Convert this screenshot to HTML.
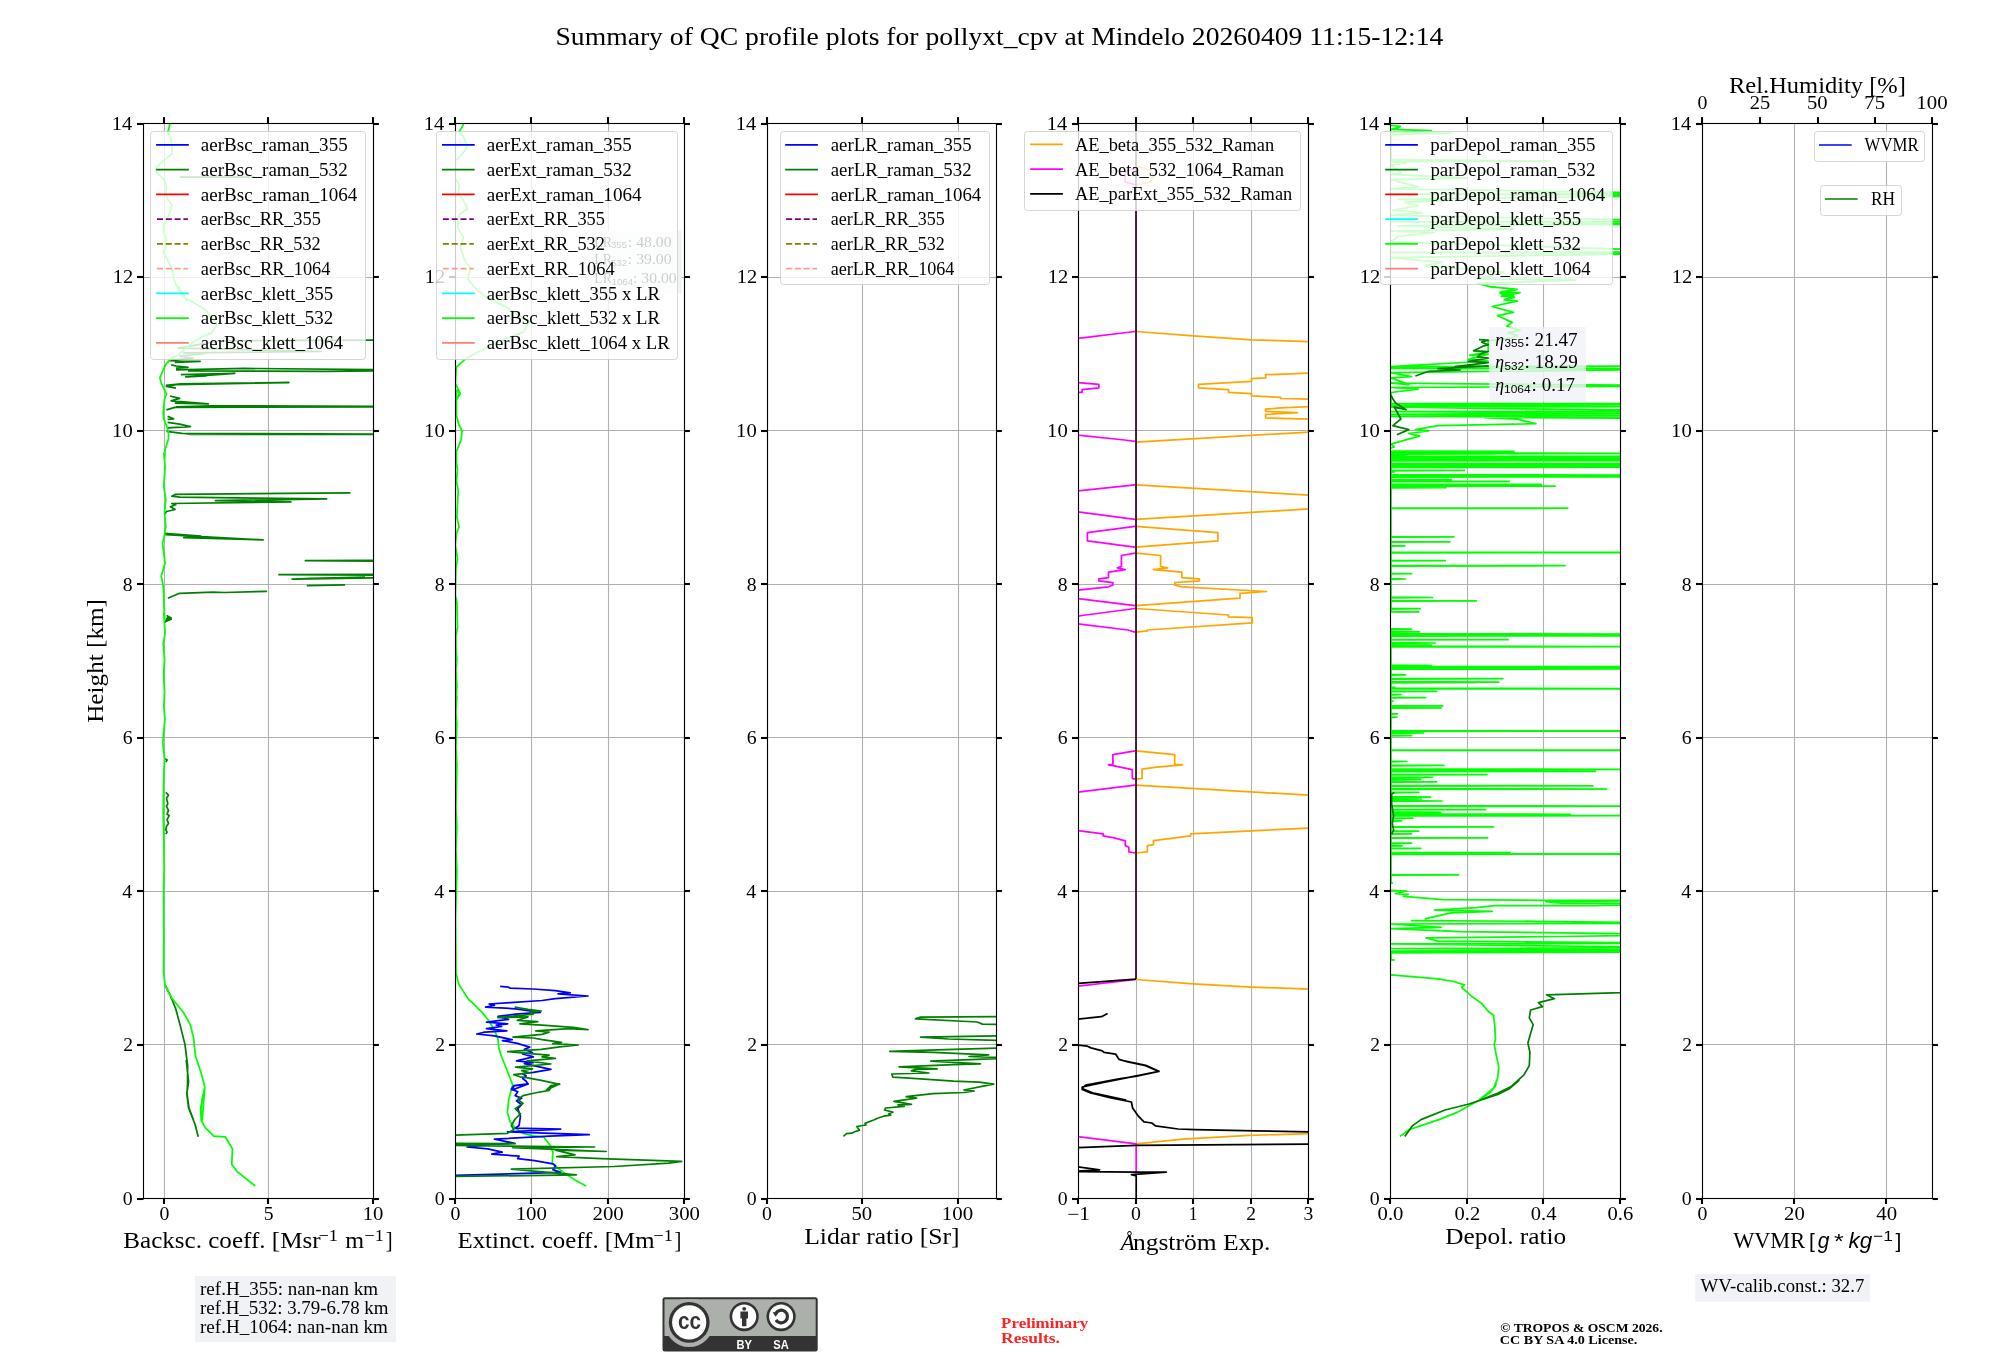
<!DOCTYPE html><html><head><meta charset="utf-8"><style>html,body{margin:0;padding:0;background:#fff;overflow:hidden}svg{display:block}#w{transform:translateZ(0);width:2000px;height:1360px}</style></head><body><div id="w"><svg width="2000" height="1360" viewBox="0 0 2000 1360">
<defs>
<clipPath id="c0"><rect x="143.5" y="123.5" width="230.0" height="1075.0"/></clipPath>
<clipPath id="c1"><rect x="455.5" y="123.5" width="229.0" height="1075.0"/></clipPath>
<clipPath id="c2"><rect x="767.5" y="123.5" width="229.0" height="1075.0"/></clipPath>
<clipPath id="c3"><rect x="1078.5" y="123.5" width="230.0" height="1075.0"/></clipPath>
<clipPath id="c4"><rect x="1390.5" y="123.5" width="230.0" height="1075.0"/></clipPath>
<clipPath id="c5"><rect x="1702.5" y="123.5" width="230.0" height="1075.0"/></clipPath>
</defs>
<text x="555.45" y="44.50" font-family="Liberation Serif" font-size="26.22" textLength="887.98" lengthAdjust="spacingAndGlyphs">Summary of QC profile plots for pollyxt_cpv at Mindelo 20260409 11:15-12:14</text>
<line x1="164.50" y1="123.5" x2="164.50" y2="1198.5" stroke="#b0b0b0" stroke-width="1.11"/>
<line x1="268.50" y1="123.5" x2="268.50" y2="1198.5" stroke="#b0b0b0" stroke-width="1.11"/>
<line x1="373.50" y1="123.5" x2="373.50" y2="1198.5" stroke="#b0b0b0" stroke-width="1.11"/>
<line x1="143.5" y1="1198.50" x2="373.5" y2="1198.50" stroke="#b0b0b0" stroke-width="1.11"/>
<line x1="143.5" y1="1044.50" x2="373.5" y2="1044.50" stroke="#b0b0b0" stroke-width="1.11"/>
<line x1="143.5" y1="891.50" x2="373.5" y2="891.50" stroke="#b0b0b0" stroke-width="1.11"/>
<line x1="143.5" y1="737.50" x2="373.5" y2="737.50" stroke="#b0b0b0" stroke-width="1.11"/>
<line x1="143.5" y1="584.50" x2="373.5" y2="584.50" stroke="#b0b0b0" stroke-width="1.11"/>
<line x1="143.5" y1="430.50" x2="373.5" y2="430.50" stroke="#b0b0b0" stroke-width="1.11"/>
<line x1="143.5" y1="277.50" x2="373.5" y2="277.50" stroke="#b0b0b0" stroke-width="1.11"/>
<line x1="143.5" y1="123.50" x2="373.5" y2="123.50" stroke="#b0b0b0" stroke-width="1.11"/>
<g clip-path="url(#c0)">
<path d="M180.0 177.2 L255.0 177.2 M457.6 339.8 L219.4 340.9 L178.4 348.2 L321.3 351.5 L183.7 352.8 L206.2 353.5 L179.7 356.1 L192.9 358.1 L170.4 360.1 M168.8 360.6 L200.0 361.4 L174.8 362.4 M171.2 364.8 L176.0 366.0 L188.0 367.4 L176.0 368.2 M176.0 369.8 L244.4 368.4 L428.0 370.3 L326.0 371.4 L188.0 370.8 M180.8 374.6 L234.8 373.4 L185.6 376.8 L206.0 376.0 L186.8 377.0 M165.8 385.4 L180.8 383.8 L288.8 382.6 L176.0 384.6 L166.4 386.4 L176.0 388.2 M170.0 396.0 L179.6 398.4 L171.2 400.8 L208.4 403.8 L174.8 403.2 M166.4 409.8 L174.8 407.4 L428.0 406.6 L209.6 405.8 L176.0 406.8 M167.6 416.4 L173.6 418.8 L167.6 419.4 M167.6 422.4 L179.6 424.2 L190.4 426.6 L167.6 427.8 M170.0 432.0 L190.4 434.4 L428.0 434.4 L182.0 433.4 L166.4 431.4 M164.5 514.1 L166.5 511.5 L175.1 509.5 L170.4 506.8 L175.7 504.8 L171.8 503.5 L290.9 501.9 L215.4 500.6 L326.6 498.9 L179.7 497.2 L171.8 496.2 L175.7 494.3 L350.4 492.9 M164.5 533.3 L200.9 536.0 L183.7 537.7 L263.1 539.9 L165.1 534.6 M457.6 559.8 L305.4 560.7 L457.6 561.5 M457.6 573.9 L279.0 574.7 L457.6 575.3 M457.6 576.3 L292.2 579.2 L312.0 578.3 L365.0 577.2 M306.8 585.6 L345.1 584.9 M167.8 598.2 L177.1 594.2 L179.7 593.3 L212.8 592.2 L224.7 592.5 L267.1 591.3 M166.5 615.4 L171.1 618.0 L167.1 620.0 M165.1 622.5 L167.8 617.2 L171.1 619.2 L166.5 621.2 M165.1 758.8 L167.1 760.1 L165.8 762.1 M165.8 792.4 L168.5 795.1 L166.5 798.4 L167.8 803.7 L166.5 806.3 L168.5 810.3 L167.1 814.3 L169.1 815.6 L167.1 819.6 L168.5 823.5 L166.5 826.2 L165.8 830.1 L167.1 832.1 L165.8 834.1 M165.1 985.0 L170.4 995.6 L175.7 1008.8 L179.7 1023.4 L185.0 1044.6 L187.6 1065.7 L187.6 1082.9 L187.0 1093.5 L189.0 1108.1 L193.6 1120.0 M186.2 1060.0 L188.6 1081.6 L186.8 1093.6 L188.6 1108.0 L195.2 1124.8 L198.2 1136.8" fill="none" stroke="#008000" stroke-width="1.74" stroke-linejoin="round" stroke-linecap="butt"/>
<path d="M169.8 124.0 L168.5 130.6 L167.1 131.9 L169.1 134.6 L171.1 139.9 L171.8 146.5 L172.4 153.1 L166.5 158.4 L161.2 162.4 L156.5 167.6 L155.9 171.6 L159.9 175.6 L163.8 179.6 L165.8 183.5 L166.5 188.8 L165.8 194.1 L167.8 199.4 L171.8 204.7 L169.8 212.6 L166.5 220.6 L163.2 225.9 L163.8 232.5 L166.5 239.1 L165.8 245.7 L163.2 252.3 L166.5 257.6 L170.4 265.6 L173.1 272.2 L173.7 278.8 L177.1 286.8 L185.0 297.3 L186.3 300.0 L178.4 286.6 L179.7 293.2 L186.3 298.5 L195.6 303.8 L206.2 310.4 L210.1 315.7 L216.8 325.0 L211.5 332.9 L202.2 336.9 L192.9 342.2 L183.7 350.1 L177.1 355.4 L170.4 359.4 L166.5 363.4 L163.2 370.0 L159.9 377.9 L161.2 383.2 L164.5 389.8 L166.5 393.8 L164.5 399.1 L163.2 412.3 L163.8 419.0 L166.5 425.6 L168.5 432.2 L168.5 438.8 L165.1 449.4 L164.5 460.0 L163.8 453.2 L165.1 466.5 L163.8 486.3 L165.8 499.6 L164.5 512.8 L165.8 526.0 L163.8 539.3 L162.5 543.2 L164.5 559.1 L165.1 563.1 L161.2 576.3 L163.2 585.6 L163.8 598.8 L164.5 620.0 L163.8 613.2 L165.1 633.1 L163.2 643.7 L164.5 659.6 L163.6 674.1 L164.5 692.6 L163.8 705.9 L164.9 719.1 L162.8 742.9 L164.5 758.8 L163.6 780.0 L163.6 786.5 L163.2 812.9 L163.8 839.4 L164.1 865.9 L163.6 892.3 L163.8 940.0 L163.6 973.1 L165.1 985.0 L171.8 998.2 L183.7 1012.8 L190.3 1024.7 L193.6 1037.9 L194.3 1045.9 L195.6 1056.5 L200.9 1072.3 L204.8 1086.9 L202.2 1098.8 L200.9 1109.4 L202.2 1120.0 L204.8 1087.6 L200.6 1108.0 L201.2 1120.0 L204.8 1127.2 L213.8 1136.2 L225.2 1136.8 L232.4 1148.8 L231.8 1164.4 L237.2 1171.6 L255.2 1186.0" fill="none" stroke="#00ff00" stroke-width="1.74" stroke-linejoin="round" stroke-linecap="butt"/>
</g>
<rect x="143.5" y="123.5" width="230.00" height="1075.00" fill="none" stroke="#000" stroke-width="1.11"/>
<line x1="164" y1="1198.5" x2="164" y2="1204.0" stroke="#000" stroke-width="2.08"/>
<line x1="164" y1="123.5" x2="164" y2="117.1" stroke="#000" stroke-width="2.08"/>
<line x1="268" y1="1198.5" x2="268" y2="1204.0" stroke="#000" stroke-width="2.08"/>
<line x1="268" y1="123.5" x2="268" y2="117.1" stroke="#000" stroke-width="2.08"/>
<line x1="373" y1="1198.5" x2="373" y2="1204.0" stroke="#000" stroke-width="2.08"/>
<line x1="373" y1="123.5" x2="373" y2="117.1" stroke="#000" stroke-width="2.08"/>
<line x1="143.5" y1="1199" x2="137.0" y2="1199" stroke="#000" stroke-width="2.08"/>
<line x1="373.5" y1="1199" x2="378.9" y2="1199" stroke="#000" stroke-width="2.08"/>
<line x1="143.5" y1="1045" x2="137.0" y2="1045" stroke="#000" stroke-width="2.08"/>
<line x1="373.5" y1="1045" x2="378.9" y2="1045" stroke="#000" stroke-width="2.08"/>
<line x1="143.5" y1="891" x2="137.0" y2="891" stroke="#000" stroke-width="2.08"/>
<line x1="373.5" y1="891" x2="378.9" y2="891" stroke="#000" stroke-width="2.08"/>
<line x1="143.5" y1="738" x2="137.0" y2="738" stroke="#000" stroke-width="2.08"/>
<line x1="373.5" y1="738" x2="378.9" y2="738" stroke="#000" stroke-width="2.08"/>
<line x1="143.5" y1="584" x2="137.0" y2="584" stroke="#000" stroke-width="2.08"/>
<line x1="373.5" y1="584" x2="378.9" y2="584" stroke="#000" stroke-width="2.08"/>
<line x1="143.5" y1="431" x2="137.0" y2="431" stroke="#000" stroke-width="2.08"/>
<line x1="373.5" y1="431" x2="378.9" y2="431" stroke="#000" stroke-width="2.08"/>
<line x1="143.5" y1="277" x2="137.0" y2="277" stroke="#000" stroke-width="2.08"/>
<line x1="373.5" y1="277" x2="378.9" y2="277" stroke="#000" stroke-width="2.08"/>
<line x1="143.5" y1="124" x2="137.0" y2="124" stroke="#000" stroke-width="2.08"/>
<line x1="373.5" y1="124" x2="378.9" y2="124" stroke="#000" stroke-width="2.08"/>
<text x="159.46" y="1220.00" font-family="Liberation Serif" font-size="17.83" textLength="9.91" lengthAdjust="spacingAndGlyphs">0</text>
<text x="263.86" y="1220.00" font-family="Liberation Serif" font-size="17.83" textLength="9.81" lengthAdjust="spacingAndGlyphs">5</text>
<text x="362.65" y="1220.00" font-family="Liberation Serif" font-size="17.83" textLength="20.67" lengthAdjust="spacingAndGlyphs">10</text>
<text x="122.85" y="1204.90" font-family="Liberation Serif" font-size="17.83" textLength="9.91" lengthAdjust="spacingAndGlyphs">0</text>
<text x="123.30" y="1051.33" font-family="Liberation Serif" font-size="17.83" textLength="9.77" lengthAdjust="spacingAndGlyphs">2</text>
<text x="122.36" y="897.76" font-family="Liberation Serif" font-size="17.83" textLength="9.95" lengthAdjust="spacingAndGlyphs">4</text>
<text x="122.71" y="744.19" font-family="Liberation Serif" font-size="17.83" textLength="9.88" lengthAdjust="spacingAndGlyphs">6</text>
<text x="122.88" y="590.61" font-family="Liberation Serif" font-size="17.83" textLength="9.87" lengthAdjust="spacingAndGlyphs">8</text>
<text x="112.12" y="437.04" font-family="Liberation Serif" font-size="17.83" textLength="20.67" lengthAdjust="spacingAndGlyphs">10</text>
<text x="112.66" y="283.47" font-family="Liberation Serif" font-size="17.83" textLength="20.47" lengthAdjust="spacingAndGlyphs">12</text>
<text x="111.87" y="129.90" font-family="Liberation Serif" font-size="17.83" textLength="20.45" lengthAdjust="spacingAndGlyphs">14</text>
<line x1="455.50" y1="123.5" x2="455.50" y2="1198.5" stroke="#b0b0b0" stroke-width="1.11"/>
<line x1="531.50" y1="123.5" x2="531.50" y2="1198.5" stroke="#b0b0b0" stroke-width="1.11"/>
<line x1="608.50" y1="123.5" x2="608.50" y2="1198.5" stroke="#b0b0b0" stroke-width="1.11"/>
<line x1="684.50" y1="123.5" x2="684.50" y2="1198.5" stroke="#b0b0b0" stroke-width="1.11"/>
<line x1="455.5" y1="1198.50" x2="684.5" y2="1198.50" stroke="#b0b0b0" stroke-width="1.11"/>
<line x1="455.5" y1="1044.50" x2="684.5" y2="1044.50" stroke="#b0b0b0" stroke-width="1.11"/>
<line x1="455.5" y1="891.50" x2="684.5" y2="891.50" stroke="#b0b0b0" stroke-width="1.11"/>
<line x1="455.5" y1="737.50" x2="684.5" y2="737.50" stroke="#b0b0b0" stroke-width="1.11"/>
<line x1="455.5" y1="584.50" x2="684.5" y2="584.50" stroke="#b0b0b0" stroke-width="1.11"/>
<line x1="455.5" y1="430.50" x2="684.5" y2="430.50" stroke="#b0b0b0" stroke-width="1.11"/>
<line x1="455.5" y1="277.50" x2="684.5" y2="277.50" stroke="#b0b0b0" stroke-width="1.11"/>
<line x1="455.5" y1="123.50" x2="684.5" y2="123.50" stroke="#b0b0b0" stroke-width="1.11"/>
<g clip-path="url(#c1)">
<path d="M463.5 124.1 L461.5 128.2 L458.4 132.4 L463.5 136.5 L465.6 142.6 L466.6 148.8 L457.4 159.1 L453.2 161.2 L453.2 177.6 L456.3 179.7 L459.4 185.9 L458.4 192.1 L464.6 202.4 L467.6 208.5 L459.4 214.7 L457.4 227.1 L463.5 237.4 L460.4 247.7 L464.6 260.0 L470.7 268.2 L467.6 278.5 L473.8 286.8 L486.2 297.1 L506.8 307.4 L529.4 321.8 L523.2 332.1 L496.5 342.4 L465.6 358.8 L456.3 367.1 L455.3 383.5 L460.4 393.8 L456.3 400.0 L455.9 390.0 L459.8 393.4 L456.4 399.1 L456.4 415.1 L458.7 424.2 L462.1 431.0 L461.0 440.1 L456.4 451.5 L456.4 462.9 L457.5 469.8 L456.4 481.2 L458.2 490.3 L457.5 504.0 L456.9 517.6 L459.1 526.8 L456.4 533.6 L455.3 545.0 L457.5 558.7 L455.9 567.8 L455.3 595.2 L456.9 602.0 L457.5 627.1 L455.9 636.2 L455.9 647.6 L456.9 659.0 L455.9 670.4 L456.9 686.3 L455.9 700.0 L456.9 696.8 L455.9 712.8 L456.9 724.2 L455.9 747.0 L456.9 765.2 L455.9 808.5 L456.9 826.8 L455.9 849.6 L456.9 870.1 L455.5 917.9 L455.9 963.5 L455.9 972.7 L458.7 984.1 L468.9 1000.0 L471.5 1001.8 L482.1 1012.4 L489.1 1021.2 L494.4 1030.0 L498.0 1038.8 L498.8 1047.7 L501.5 1056.5 L506.8 1069.7 L513.0 1085.6 L514.7 1090.0 L512.6 1085.2 L508.7 1099.5 L507.4 1112.5 L510.0 1121.6 L515.2 1128.1 L523.0 1133.3 L533.4 1135.9 L543.8 1137.2 L549.0 1143.7 L552.9 1151.5 L552.3 1163.2 L558.1 1168.4 L567.2 1174.9 L575.0 1180.1 L586.1 1186.0" fill="none" stroke="#00ff00" stroke-width="1.74" stroke-linejoin="round" stroke-linecap="butt"/>
<path d="M500.2 986.3 L508.5 987.2 L510.3 988.1 L533.3 989.0 L555.3 990.7 L570.3 992.9 L558.0 993.8 L588.0 996.0 L555.3 998.7 L542.1 1000.5 L510.3 1002.7 L489.1 1004.0 L494.4 1005.3 L485.6 1007.1 L515.6 1008.8 L540.3 1012.4 L515.6 1014.1 L498.0 1016.3 L508.5 1019.4 L486.5 1022.1 L507.7 1023.8 L496.2 1025.2 L501.5 1026.5 L486.5 1028.7 L506.8 1030.9 L484.7 1032.2 L476.8 1034.0 L494.4 1035.8 L512.1 1039.7 L502.4 1040.6 L517.4 1043.3 L529.7 1047.2 L524.4 1049.4 L532.4 1052.5 L522.7 1053.8 L533.3 1056.9 L516.5 1060.9 L533.3 1062.7 L524.4 1063.6 L550.9 1069.3 L533.3 1072.4 L522.7 1073.7 L526.2 1075.9 L522.7 1078.6 L526.2 1081.2 L528.0 1083.9 L513.8 1085.6 L512.1 1090.0 L528.2 1083.9 L513.9 1085.9 L511.3 1089.1 L517.8 1091.7 L515.2 1095.6 L521.7 1098.2 L516.5 1100.8 L521.7 1104.7 L517.8 1108.6 L520.4 1116.4 L519.1 1125.5 L515.2 1128.1 L560.7 1129.2 L507.4 1131.8 L589.3 1134.6 L549.0 1136.2 L494.4 1139.2 L513.9 1143.1 L491.8 1144.4 L467.1 1147.0 L487.9 1148.9 L502.2 1152.2 L491.8 1154.1 L519.1 1156.1 L517.8 1158.7 L534.7 1160.6 L552.9 1163.9 L555.5 1165.8 L552.9 1169.7 L560.7 1172.3 L419.0 1176.5" fill="none" stroke="#0000ff" stroke-width="1.74" stroke-linejoin="round" stroke-linecap="butt"/>
<path d="M514.7 1007.1 L528.0 1009.3 L541.2 1011.0 L529.7 1012.4 L533.3 1014.1 L498.0 1017.7 L528.0 1016.8 L517.4 1020.3 L537.7 1021.6 L520.0 1023.8 L542.1 1025.2 L573.0 1027.4 L588.0 1029.6 L568.6 1028.7 L535.9 1030.9 L549.1 1032.2 L542.1 1034.4 L513.0 1037.1 L533.3 1038.0 L542.1 1039.7 L561.5 1042.4 L552.7 1043.7 L578.3 1045.0 L559.7 1046.8 L541.2 1049.4 L507.7 1051.6 L533.3 1053.8 L549.1 1055.2 L542.1 1056.9 L555.3 1058.3 L527.1 1060.9 L550.9 1064.0 L515.6 1067.1 L532.4 1068.9 L521.8 1070.6 L529.7 1072.8 L513.8 1074.6 L520.0 1076.8 L526.2 1077.7 L541.2 1080.3 L559.7 1084.3 L550.9 1085.6 L546.5 1090.0 L559.4 1083.9 L551.6 1086.5 L549.0 1090.4 L534.7 1093.0 L523.0 1095.6 L517.8 1099.5 L523.0 1103.4 L515.2 1108.6 L520.4 1113.8 L515.2 1119.0 L511.3 1125.5 L513.9 1129.4 L507.4 1133.3 L419.0 1136.2 L419.0 1143.1 L515.2 1143.7 L419.0 1145.0 L594.5 1147.0 L512.6 1147.6 L606.2 1151.5 L555.5 1150.2 L575.0 1154.8 L556.8 1156.7 L601.0 1158.7 L681.7 1161.3 L668.7 1163.2 L614.1 1166.5 L511.3 1169.1 L576.3 1174.9 L419.0 1176.9" fill="none" stroke="#008000" stroke-width="1.74" stroke-linejoin="round" stroke-linecap="butt"/>
</g>
<rect x="455.5" y="123.5" width="229.00" height="1075.00" fill="none" stroke="#000" stroke-width="1.11"/>
<line x1="455" y1="1198.5" x2="455" y2="1204.0" stroke="#000" stroke-width="2.08"/>
<line x1="455" y1="123.5" x2="455" y2="117.1" stroke="#000" stroke-width="2.08"/>
<line x1="531" y1="1198.5" x2="531" y2="1204.0" stroke="#000" stroke-width="2.08"/>
<line x1="531" y1="123.5" x2="531" y2="117.1" stroke="#000" stroke-width="2.08"/>
<line x1="608" y1="1198.5" x2="608" y2="1204.0" stroke="#000" stroke-width="2.08"/>
<line x1="608" y1="123.5" x2="608" y2="117.1" stroke="#000" stroke-width="2.08"/>
<line x1="684" y1="1198.5" x2="684" y2="1204.0" stroke="#000" stroke-width="2.08"/>
<line x1="684" y1="123.5" x2="684" y2="117.1" stroke="#000" stroke-width="2.08"/>
<line x1="455.5" y1="1199" x2="449.0" y2="1199" stroke="#000" stroke-width="2.08"/>
<line x1="684.5" y1="1199" x2="689.9" y2="1199" stroke="#000" stroke-width="2.08"/>
<line x1="455.5" y1="1045" x2="449.0" y2="1045" stroke="#000" stroke-width="2.08"/>
<line x1="684.5" y1="1045" x2="689.9" y2="1045" stroke="#000" stroke-width="2.08"/>
<line x1="455.5" y1="891" x2="449.0" y2="891" stroke="#000" stroke-width="2.08"/>
<line x1="684.5" y1="891" x2="689.9" y2="891" stroke="#000" stroke-width="2.08"/>
<line x1="455.5" y1="738" x2="449.0" y2="738" stroke="#000" stroke-width="2.08"/>
<line x1="684.5" y1="738" x2="689.9" y2="738" stroke="#000" stroke-width="2.08"/>
<line x1="455.5" y1="584" x2="449.0" y2="584" stroke="#000" stroke-width="2.08"/>
<line x1="684.5" y1="584" x2="689.9" y2="584" stroke="#000" stroke-width="2.08"/>
<line x1="455.5" y1="431" x2="449.0" y2="431" stroke="#000" stroke-width="2.08"/>
<line x1="684.5" y1="431" x2="689.9" y2="431" stroke="#000" stroke-width="2.08"/>
<line x1="455.5" y1="277" x2="449.0" y2="277" stroke="#000" stroke-width="2.08"/>
<line x1="684.5" y1="277" x2="689.9" y2="277" stroke="#000" stroke-width="2.08"/>
<line x1="455.5" y1="124" x2="449.0" y2="124" stroke="#000" stroke-width="2.08"/>
<line x1="684.5" y1="124" x2="689.9" y2="124" stroke="#000" stroke-width="2.08"/>
<text x="450.55" y="1220.00" font-family="Liberation Serif" font-size="17.83" textLength="9.91" lengthAdjust="spacingAndGlyphs">0</text>
<text x="515.66" y="1220.00" font-family="Liberation Serif" font-size="17.83" textLength="31.30" lengthAdjust="spacingAndGlyphs">100</text>
<text x="592.46" y="1220.00" font-family="Liberation Serif" font-size="17.83" textLength="31.28" lengthAdjust="spacingAndGlyphs">200</text>
<text x="668.79" y="1220.00" font-family="Liberation Serif" font-size="17.83" textLength="31.22" lengthAdjust="spacingAndGlyphs">300</text>
<text x="434.85" y="1204.90" font-family="Liberation Serif" font-size="17.83" textLength="9.91" lengthAdjust="spacingAndGlyphs">0</text>
<text x="435.30" y="1051.33" font-family="Liberation Serif" font-size="17.83" textLength="9.77" lengthAdjust="spacingAndGlyphs">2</text>
<text x="434.36" y="897.76" font-family="Liberation Serif" font-size="17.83" textLength="9.95" lengthAdjust="spacingAndGlyphs">4</text>
<text x="434.71" y="744.19" font-family="Liberation Serif" font-size="17.83" textLength="9.88" lengthAdjust="spacingAndGlyphs">6</text>
<text x="434.88" y="590.61" font-family="Liberation Serif" font-size="17.83" textLength="9.87" lengthAdjust="spacingAndGlyphs">8</text>
<text x="424.12" y="437.04" font-family="Liberation Serif" font-size="17.83" textLength="20.67" lengthAdjust="spacingAndGlyphs">10</text>
<text x="424.66" y="283.47" font-family="Liberation Serif" font-size="17.83" textLength="20.47" lengthAdjust="spacingAndGlyphs">12</text>
<text x="423.87" y="129.90" font-family="Liberation Serif" font-size="17.83" textLength="20.45" lengthAdjust="spacingAndGlyphs">14</text>
<line x1="767.50" y1="123.5" x2="767.50" y2="1198.5" stroke="#b0b0b0" stroke-width="1.11"/>
<line x1="862.50" y1="123.5" x2="862.50" y2="1198.5" stroke="#b0b0b0" stroke-width="1.11"/>
<line x1="958.50" y1="123.5" x2="958.50" y2="1198.5" stroke="#b0b0b0" stroke-width="1.11"/>
<line x1="767.5" y1="1198.50" x2="996.5" y2="1198.50" stroke="#b0b0b0" stroke-width="1.11"/>
<line x1="767.5" y1="1044.50" x2="996.5" y2="1044.50" stroke="#b0b0b0" stroke-width="1.11"/>
<line x1="767.5" y1="891.50" x2="996.5" y2="891.50" stroke="#b0b0b0" stroke-width="1.11"/>
<line x1="767.5" y1="737.50" x2="996.5" y2="737.50" stroke="#b0b0b0" stroke-width="1.11"/>
<line x1="767.5" y1="584.50" x2="996.5" y2="584.50" stroke="#b0b0b0" stroke-width="1.11"/>
<line x1="767.5" y1="430.50" x2="996.5" y2="430.50" stroke="#b0b0b0" stroke-width="1.11"/>
<line x1="767.5" y1="277.50" x2="996.5" y2="277.50" stroke="#b0b0b0" stroke-width="1.11"/>
<line x1="767.5" y1="123.50" x2="996.5" y2="123.50" stroke="#b0b0b0" stroke-width="1.11"/>
<g clip-path="url(#c2)">
<path d="M843.4 1136.3 L846.5 1133.7 L851.6 1133.2 L854.7 1131.7 L859.4 1130.1 L856.8 1126.5 L866.0 1125.0 L865.0 1123.4 L874.3 1119.8 L877.4 1118.3 L883.6 1116.2 L890.8 1115.2 L888.7 1113.7 L892.8 1112.1 L884.6 1110.0 L885.6 1108.0 L904.2 1106.4 L898.0 1104.9 L911.4 1104.4 L893.9 1101.3 L916.5 1098.2 L906.2 1096.7 L933.0 1093.6 L963.9 1092.5 L974.2 1091.0 L963.9 1090.0 L984.5 1085.8 L993.7 1084.1 L979.3 1082.2 L953.6 1081.2 L909.3 1078.1 L892.8 1077.1 L891.8 1074.0 L928.9 1073.0 L911.4 1070.9 L915.5 1069.4 L937.1 1068.9 L899.0 1066.8 L953.6 1064.7 L980.4 1063.9 L930.9 1061.1 L956.7 1060.1 L1015.4 1058.0 L969.0 1056.5 L988.6 1054.9 L933.0 1052.4 L889.7 1051.3 L953.6 1049.3 L1015.4 1047.7 M1015.4 1041.0 L948.4 1039.0 L920.6 1037.1 L1015.4 1035.7 M1015.4 1024.6 L982.4 1024.1 L977.3 1022.0 L915.5 1018.9 L920.6 1017.2 L1015.4 1016.5" fill="none" stroke="#008000" stroke-width="1.74" stroke-linejoin="round" stroke-linecap="butt"/>
</g>
<rect x="767.5" y="123.5" width="229.00" height="1075.00" fill="none" stroke="#000" stroke-width="1.11"/>
<line x1="767" y1="1198.5" x2="767" y2="1204.0" stroke="#000" stroke-width="2.08"/>
<line x1="767" y1="123.5" x2="767" y2="117.1" stroke="#000" stroke-width="2.08"/>
<line x1="862" y1="1198.5" x2="862" y2="1204.0" stroke="#000" stroke-width="2.08"/>
<line x1="862" y1="123.5" x2="862" y2="117.1" stroke="#000" stroke-width="2.08"/>
<line x1="958" y1="1198.5" x2="958" y2="1204.0" stroke="#000" stroke-width="2.08"/>
<line x1="958" y1="123.5" x2="958" y2="117.1" stroke="#000" stroke-width="2.08"/>
<line x1="767.5" y1="1199" x2="761.0" y2="1199" stroke="#000" stroke-width="2.08"/>
<line x1="996.5" y1="1199" x2="1001.9" y2="1199" stroke="#000" stroke-width="2.08"/>
<line x1="767.5" y1="1045" x2="761.0" y2="1045" stroke="#000" stroke-width="2.08"/>
<line x1="996.5" y1="1045" x2="1001.9" y2="1045" stroke="#000" stroke-width="2.08"/>
<line x1="767.5" y1="891" x2="761.0" y2="891" stroke="#000" stroke-width="2.08"/>
<line x1="996.5" y1="891" x2="1001.9" y2="891" stroke="#000" stroke-width="2.08"/>
<line x1="767.5" y1="738" x2="761.0" y2="738" stroke="#000" stroke-width="2.08"/>
<line x1="996.5" y1="738" x2="1001.9" y2="738" stroke="#000" stroke-width="2.08"/>
<line x1="767.5" y1="584" x2="761.0" y2="584" stroke="#000" stroke-width="2.08"/>
<line x1="996.5" y1="584" x2="1001.9" y2="584" stroke="#000" stroke-width="2.08"/>
<line x1="767.5" y1="431" x2="761.0" y2="431" stroke="#000" stroke-width="2.08"/>
<line x1="996.5" y1="431" x2="1001.9" y2="431" stroke="#000" stroke-width="2.08"/>
<line x1="767.5" y1="277" x2="761.0" y2="277" stroke="#000" stroke-width="2.08"/>
<line x1="996.5" y1="277" x2="1001.9" y2="277" stroke="#000" stroke-width="2.08"/>
<line x1="767.5" y1="124" x2="761.0" y2="124" stroke="#000" stroke-width="2.08"/>
<line x1="996.5" y1="124" x2="1001.9" y2="124" stroke="#000" stroke-width="2.08"/>
<text x="762.05" y="1220.00" font-family="Liberation Serif" font-size="17.83" textLength="9.91" lengthAdjust="spacingAndGlyphs">0</text>
<text x="851.46" y="1220.00" font-family="Liberation Serif" font-size="17.83" textLength="20.67" lengthAdjust="spacingAndGlyphs">50</text>
<text x="941.83" y="1220.00" font-family="Liberation Serif" font-size="17.83" textLength="31.30" lengthAdjust="spacingAndGlyphs">100</text>
<text x="746.85" y="1204.90" font-family="Liberation Serif" font-size="17.83" textLength="9.91" lengthAdjust="spacingAndGlyphs">0</text>
<text x="747.30" y="1051.33" font-family="Liberation Serif" font-size="17.83" textLength="9.77" lengthAdjust="spacingAndGlyphs">2</text>
<text x="746.36" y="897.76" font-family="Liberation Serif" font-size="17.83" textLength="9.95" lengthAdjust="spacingAndGlyphs">4</text>
<text x="746.71" y="744.19" font-family="Liberation Serif" font-size="17.83" textLength="9.88" lengthAdjust="spacingAndGlyphs">6</text>
<text x="746.88" y="590.61" font-family="Liberation Serif" font-size="17.83" textLength="9.87" lengthAdjust="spacingAndGlyphs">8</text>
<text x="736.12" y="437.04" font-family="Liberation Serif" font-size="17.83" textLength="20.67" lengthAdjust="spacingAndGlyphs">10</text>
<text x="736.66" y="283.47" font-family="Liberation Serif" font-size="17.83" textLength="20.47" lengthAdjust="spacingAndGlyphs">12</text>
<text x="735.87" y="129.90" font-family="Liberation Serif" font-size="17.83" textLength="20.45" lengthAdjust="spacingAndGlyphs">14</text>
<line x1="1078.50" y1="123.5" x2="1078.50" y2="1198.5" stroke="#b0b0b0" stroke-width="1.11"/>
<line x1="1136.50" y1="123.5" x2="1136.50" y2="1198.5" stroke="#b0b0b0" stroke-width="1.11"/>
<line x1="1193.50" y1="123.5" x2="1193.50" y2="1198.5" stroke="#b0b0b0" stroke-width="1.11"/>
<line x1="1251.50" y1="123.5" x2="1251.50" y2="1198.5" stroke="#b0b0b0" stroke-width="1.11"/>
<line x1="1308.50" y1="123.5" x2="1308.50" y2="1198.5" stroke="#b0b0b0" stroke-width="1.11"/>
<line x1="1078.5" y1="1198.50" x2="1308.5" y2="1198.50" stroke="#b0b0b0" stroke-width="1.11"/>
<line x1="1078.5" y1="1044.50" x2="1308.5" y2="1044.50" stroke="#b0b0b0" stroke-width="1.11"/>
<line x1="1078.5" y1="891.50" x2="1308.5" y2="891.50" stroke="#b0b0b0" stroke-width="1.11"/>
<line x1="1078.5" y1="737.50" x2="1308.5" y2="737.50" stroke="#b0b0b0" stroke-width="1.11"/>
<line x1="1078.5" y1="584.50" x2="1308.5" y2="584.50" stroke="#b0b0b0" stroke-width="1.11"/>
<line x1="1078.5" y1="430.50" x2="1308.5" y2="430.50" stroke="#b0b0b0" stroke-width="1.11"/>
<line x1="1078.5" y1="277.50" x2="1308.5" y2="277.50" stroke="#b0b0b0" stroke-width="1.11"/>
<line x1="1078.5" y1="123.50" x2="1308.5" y2="123.50" stroke="#b0b0b0" stroke-width="1.11"/>
<g clip-path="url(#c3)">
<path d="M1136.0 166.0 L1150.0 170.0 L1154.0 176.0 L1150.0 182.0 L1136.0 185.0 M1135.9 331.5 L1193.2 335.9 L1251.5 339.8 L1322.0 341.9 M1322.0 372.6 L1265.6 374.7 L1265.6 377.9 L1251.5 378.6 L1251.5 381.4 L1198.5 384.4 L1198.5 387.9 L1228.5 389.7 L1228.5 392.3 L1251.5 393.6 L1251.5 395.9 L1280.6 397.3 L1280.6 398.5 L1322.0 399.4 M1322.0 406.1 L1280.6 407.9 L1265.6 409.1 L1265.6 411.4 L1297.3 412.6 L1265.6 414.4 L1265.6 417.9 L1322.0 419.5 M1135.9 442.1 L1322.0 431.3 M1135.9 484.9 L1322.0 495.9 M1135.9 519.3 L1322.0 508.2 M1135.9 526.4 L1217.9 532.6 L1217.9 540.9 L1135.9 547.1 M1135.9 553.2 L1160.6 555.5 L1160.6 566.5 L1167.6 567.9 L1153.5 569.6 L1181.8 572.1 L1181.8 577.6 L1199.4 578.8 L1199.4 580.9 L1174.7 582.7 L1174.7 585.0 L1181.8 586.8 L1266.5 591.5 L1240.0 593.3 L1240.0 598.2 L1135.9 605.6 M1135.9 608.5 L1228.5 615.0 L1228.5 616.8 L1252.3 617.6 L1252.3 622.9 L1147.3 630.0 L1147.3 630.9 L1135.9 632.1 M1135.9 750.8 L1174.7 754.7 L1174.7 764.4 L1182.6 764.9 L1154.4 767.4 L1142.1 769.2 L1142.1 778.5 L1135.9 779.1 M1135.9 785.2 L1322.0 796.0 M1135.9 853.0 L1147.3 851.8 L1147.3 845.6 L1153.5 844.7 L1153.5 840.6 L1190.6 835.9 L1190.6 833.8 L1322.0 827.4 M1135.9 979.5 L1193.2 983.9 L1251.5 987.1 L1322.0 989.5 M1136.2 1143.8 L1183.0 1139.2 L1249.0 1135.4 L1327.0 1133.2" fill="none" stroke="#ffa500" stroke-width="1.74" stroke-linejoin="round" stroke-linecap="butt"/>
<path d="M1136.0 168.0 L1125.0 172.0 L1125.0 182.0 L1136.0 185.0 M1066.2 339.9 L1135.0 331.5 M1066.2 381.8 L1098.8 384.4 L1098.8 387.9 L1082.1 389.7 L1082.1 392.3 L1066.2 392.7 M1066.2 433.8 L1124.4 440.0 L1135.0 441.4 M1066.2 492.0 L1135.0 484.9 M1066.2 510.3 L1135.0 519.3 M1135.0 526.4 L1087.4 532.6 L1087.4 540.9 L1135.0 547.1 M1135.0 553.2 L1121.4 555.5 L1121.4 566.5 L1117.4 567.9 L1125.3 569.6 L1108.5 572.1 L1108.5 577.6 L1098.8 578.8 L1098.8 580.9 L1112.9 582.7 L1112.9 585.0 L1108.5 586.8 L1066.2 591.5 M1066.2 597.3 L1135.0 605.6 M1135.0 608.5 L1082.1 615.5 L1066.2 617.6 M1066.2 622.4 L1127.9 630.0 L1135.0 632.1 M1135.0 750.8 L1112.9 754.7 L1112.9 764.4 L1108.5 764.9 L1112.9 765.6 L1132.3 769.7 L1132.3 778.5 L1135.0 779.1 M1066.2 793.5 L1135.0 785.2 M1066.2 829.2 L1103.2 833.8 L1103.2 835.9 L1112.9 837.6 L1125.3 840.8 L1125.3 845.6 L1128.8 847.3 L1128.8 851.8 L1135.0 853.0 M1066.2 987.4 L1135.9 979.5 M1069.0 1135.6 L1136.2 1143.8 L1136.2 1172.2" fill="none" stroke="#ff00ff" stroke-width="1.74" stroke-linejoin="round" stroke-linecap="butt"/>
<path d="M1066.2 984.2 L1135.9 979.1 M1066.2 1020.2 L1101.5 1016.7 L1107.6 1013.5 M1066.2 1043.5 L1087.4 1046.2 L1090.9 1047.9 L1101.5 1050.6 L1104.1 1052.3 L1115.6 1054.1 L1119.1 1059.4 L1127.9 1062.0 L1145.6 1065.6 L1158.8 1071.4 L1136.8 1076.2 L1119.1 1078.8 L1085.6 1085.0 L1082.1 1088.5 L1092.6 1092.9 L1126.2 1100.0 M1120.6 1060.0 L1145.8 1065.4 L1159.0 1071.4 L1135.0 1076.2 L1105.0 1082.2 L1082.2 1087.0 L1082.2 1089.4 L1090.6 1093.0 L1111.0 1097.8 L1131.4 1102.0 L1132.6 1108.0 L1138.6 1116.4 L1144.0 1121.8 L1151.8 1123.0 L1155.4 1125.8 L1178.2 1129.0 L1195.0 1129.6 L1255.0 1130.8 L1327.0 1132.2 M1069.0 1148.0 L1136.2 1145.4 L1327.0 1144.0 M1069.0 1165.6 L1099.6 1169.8 L1069.0 1171.6 L1137.4 1172.2 L1166.2 1172.2 L1131.4 1174.6 L1136.2 1175.8 L1136.2 1199.2" fill="none" stroke="#000000" stroke-width="1.74" stroke-linejoin="round" stroke-linecap="butt"/>
<path d="M1136.0 120.0 L1136.0 979.1" fill="none" stroke="#2a0a2a" stroke-width="1.74" stroke-linejoin="round" stroke-linecap="butt"/>
</g>
<rect x="1078.5" y="123.5" width="230.00" height="1075.00" fill="none" stroke="#000" stroke-width="1.11"/>
<line x1="1078" y1="1198.5" x2="1078" y2="1204.0" stroke="#000" stroke-width="2.08"/>
<line x1="1078" y1="123.5" x2="1078" y2="117.1" stroke="#000" stroke-width="2.08"/>
<line x1="1136" y1="1198.5" x2="1136" y2="1204.0" stroke="#000" stroke-width="2.08"/>
<line x1="1136" y1="123.5" x2="1136" y2="117.1" stroke="#000" stroke-width="2.08"/>
<line x1="1193" y1="1198.5" x2="1193" y2="1204.0" stroke="#000" stroke-width="2.08"/>
<line x1="1193" y1="123.5" x2="1193" y2="117.1" stroke="#000" stroke-width="2.08"/>
<line x1="1251" y1="1198.5" x2="1251" y2="1204.0" stroke="#000" stroke-width="2.08"/>
<line x1="1251" y1="123.5" x2="1251" y2="117.1" stroke="#000" stroke-width="2.08"/>
<line x1="1308" y1="1198.5" x2="1308" y2="1204.0" stroke="#000" stroke-width="2.08"/>
<line x1="1308" y1="123.5" x2="1308" y2="117.1" stroke="#000" stroke-width="2.08"/>
<line x1="1078.5" y1="1199" x2="1072.0" y2="1199" stroke="#000" stroke-width="2.08"/>
<line x1="1308.5" y1="1199" x2="1313.9" y2="1199" stroke="#000" stroke-width="2.08"/>
<line x1="1078.5" y1="1045" x2="1072.0" y2="1045" stroke="#000" stroke-width="2.08"/>
<line x1="1308.5" y1="1045" x2="1313.9" y2="1045" stroke="#000" stroke-width="2.08"/>
<line x1="1078.5" y1="891" x2="1072.0" y2="891" stroke="#000" stroke-width="2.08"/>
<line x1="1308.5" y1="891" x2="1313.9" y2="891" stroke="#000" stroke-width="2.08"/>
<line x1="1078.5" y1="738" x2="1072.0" y2="738" stroke="#000" stroke-width="2.08"/>
<line x1="1308.5" y1="738" x2="1313.9" y2="738" stroke="#000" stroke-width="2.08"/>
<line x1="1078.5" y1="584" x2="1072.0" y2="584" stroke="#000" stroke-width="2.08"/>
<line x1="1308.5" y1="584" x2="1313.9" y2="584" stroke="#000" stroke-width="2.08"/>
<line x1="1078.5" y1="431" x2="1072.0" y2="431" stroke="#000" stroke-width="2.08"/>
<line x1="1308.5" y1="431" x2="1313.9" y2="431" stroke="#000" stroke-width="2.08"/>
<line x1="1078.5" y1="277" x2="1072.0" y2="277" stroke="#000" stroke-width="2.08"/>
<line x1="1308.5" y1="277" x2="1313.9" y2="277" stroke="#000" stroke-width="2.08"/>
<line x1="1078.5" y1="124" x2="1072.0" y2="124" stroke="#000" stroke-width="2.08"/>
<line x1="1308.5" y1="124" x2="1313.9" y2="124" stroke="#000" stroke-width="2.08"/>
<text x="1067.22" y="1220.00" font-family="Liberation Serif" font-size="17.83" textLength="22.79" lengthAdjust="spacingAndGlyphs">−1</text>
<text x="1131.05" y="1220.00" font-family="Liberation Serif" font-size="17.83" textLength="9.91" lengthAdjust="spacingAndGlyphs">0</text>
<text x="1188.85" y="1220.00" font-family="Liberation Serif" font-size="17.83" textLength="8.81" lengthAdjust="spacingAndGlyphs">1</text>
<text x="1246.22" y="1220.00" font-family="Liberation Serif" font-size="17.83" textLength="9.77" lengthAdjust="spacingAndGlyphs">2</text>
<text x="1303.51" y="1220.00" font-family="Liberation Serif" font-size="17.83" textLength="9.80" lengthAdjust="spacingAndGlyphs">3</text>
<text x="1057.85" y="1204.90" font-family="Liberation Serif" font-size="17.83" textLength="9.91" lengthAdjust="spacingAndGlyphs">0</text>
<text x="1058.30" y="1051.33" font-family="Liberation Serif" font-size="17.83" textLength="9.77" lengthAdjust="spacingAndGlyphs">2</text>
<text x="1057.36" y="897.76" font-family="Liberation Serif" font-size="17.83" textLength="9.95" lengthAdjust="spacingAndGlyphs">4</text>
<text x="1057.71" y="744.19" font-family="Liberation Serif" font-size="17.83" textLength="9.88" lengthAdjust="spacingAndGlyphs">6</text>
<text x="1057.88" y="590.61" font-family="Liberation Serif" font-size="17.83" textLength="9.87" lengthAdjust="spacingAndGlyphs">8</text>
<text x="1047.12" y="437.04" font-family="Liberation Serif" font-size="17.83" textLength="20.67" lengthAdjust="spacingAndGlyphs">10</text>
<text x="1047.66" y="283.47" font-family="Liberation Serif" font-size="17.83" textLength="20.47" lengthAdjust="spacingAndGlyphs">12</text>
<text x="1046.87" y="129.90" font-family="Liberation Serif" font-size="17.83" textLength="20.45" lengthAdjust="spacingAndGlyphs">14</text>
<line x1="1390.50" y1="123.5" x2="1390.50" y2="1198.5" stroke="#b0b0b0" stroke-width="1.11"/>
<line x1="1467.50" y1="123.5" x2="1467.50" y2="1198.5" stroke="#b0b0b0" stroke-width="1.11"/>
<line x1="1543.50" y1="123.5" x2="1543.50" y2="1198.5" stroke="#b0b0b0" stroke-width="1.11"/>
<line x1="1620.50" y1="123.5" x2="1620.50" y2="1198.5" stroke="#b0b0b0" stroke-width="1.11"/>
<line x1="1390.5" y1="1198.50" x2="1620.5" y2="1198.50" stroke="#b0b0b0" stroke-width="1.11"/>
<line x1="1390.5" y1="1044.50" x2="1620.5" y2="1044.50" stroke="#b0b0b0" stroke-width="1.11"/>
<line x1="1390.5" y1="891.50" x2="1620.5" y2="891.50" stroke="#b0b0b0" stroke-width="1.11"/>
<line x1="1390.5" y1="737.50" x2="1620.5" y2="737.50" stroke="#b0b0b0" stroke-width="1.11"/>
<line x1="1390.5" y1="584.50" x2="1620.5" y2="584.50" stroke="#b0b0b0" stroke-width="1.11"/>
<line x1="1390.5" y1="430.50" x2="1620.5" y2="430.50" stroke="#b0b0b0" stroke-width="1.11"/>
<line x1="1390.5" y1="277.50" x2="1620.5" y2="277.50" stroke="#b0b0b0" stroke-width="1.11"/>
<line x1="1390.5" y1="123.50" x2="1620.5" y2="123.50" stroke="#b0b0b0" stroke-width="1.11"/>
<g clip-path="url(#c4)">
<path d="M1391.0 125.3 L1400.2 126.4 L1397.6 127.9 L1391.0 129.3 L1431.3 130.6 L1391.0 132.6 L1451.2 133.2 L1392.9 134.6 L1391.0 137.2 L1391.0 159.7 L1549.1 161.0 L1391.0 161.7 L1406.2 163.0 L1391.0 165.0 L1400.9 172.9 L1391.0 174.3 L1467.1 178.2 L1391.0 179.6 L1418.1 186.8 L1391.0 188.8 L1702.6 193.5 L1391.0 194.1 L1702.6 195.4 L1398.2 199.4 L1451.2 200.7 L1404.9 202.1 L1418.1 206.0 L1392.9 210.0 L1422.1 212.6 L1391.0 215.3 L1702.6 221.2 L1391.0 221.9 L1702.6 223.9 L1398.2 225.9 L1513.4 229.2 L1391.0 231.2 L1434.0 232.5 L1398.2 236.5 L1391.0 241.8 L1702.6 251.7 L1391.0 252.3 L1702.6 253.0 L1391.0 257.6 L1441.9 262.3 L1424.7 265.6 L1504.1 272.2 L1477.6 278.8 L1575.6 280.1 L1477.6 283.4 L1490.9 286.8 L1517.3 289.4 L1500.1 292.0 L1520.0 292.7 L1501.5 294.7 L1514.7 297.3 L1504.1 300.0 M1490.9 286.6 L1497.5 287.3 L1517.3 289.3 L1500.1 293.2 L1520.0 292.6 L1501.5 296.5 L1513.4 295.9 L1504.1 299.9 L1517.3 301.2 L1492.2 306.5 L1513.4 312.4 L1497.5 315.7 L1512.1 322.4 L1506.8 326.3 L1520.0 330.3 L1508.1 332.9 L1517.3 335.6 L1510.7 338.2 L1488.2 340.9 L1488.2 351.5 L1469.7 355.4 L1488.2 354.1 L1468.4 359.4 L1488.2 361.0 L1391.0 366.7 L1702.6 366.0 L1391.0 368.4 L1702.6 368.9 L1391.0 372.6 L1411.5 376.6 L1391.0 377.9 L1408.8 384.6 L1391.0 383.2 L1702.6 385.9 L1391.0 387.5 L1418.1 389.2 L1391.0 392.5 L1391.0 403.7 L1702.6 403.7 L1391.0 405.5 L1702.6 406.4 L1391.0 407.1 L1702.6 411.0 L1391.0 411.7 L1702.6 413.0 L1391.0 414.3 L1702.6 415.7 L1391.0 416.3 L1702.6 418.3 L1484.3 417.6 L1517.3 419.2 L1535.9 423.6 L1437.9 425.6 L1415.4 429.6 L1428.7 430.9 L1408.8 433.5 L1419.4 436.2 L1404.9 440.1 L1391.0 444.1 L1394.3 446.8 L1391.0 448.1 M1391.0 451.1 L1514.0 451.4 L1391.0 451.7 L1391.0 453.0 L1702.6 453.4 L1391.0 453.7 L1391.0 455.0 L1404.9 455.4 L1391.0 455.7 L1391.0 457.0 L1702.6 457.3 L1391.0 457.7 L1391.0 459.0 L1702.6 459.3 L1391.0 459.7 M1391.0 451.6 L1514.0 451.9 L1391.0 452.2 L1391.0 453.6 L1494.8 453.9 L1391.0 454.2 L1391.0 456.2 L1702.6 456.5 L1391.0 456.9 L1391.0 457.5 L1702.6 457.9 L1391.0 458.2 L1391.0 458.9 L1702.6 459.2 L1391.0 459.5 L1391.0 460.2 L1702.6 460.5 L1391.0 460.8 L1391.0 463.5 L1702.6 463.8 L1391.0 464.2 L1391.0 465.5 L1702.6 465.8 L1391.0 466.1 L1391.0 466.8 L1702.6 467.1 L1391.0 467.5 L1391.0 470.1 L1464.4 470.4 L1391.0 470.8 L1391.0 471.4 L1394.3 471.8 L1391.0 472.1 L1391.0 474.7 L1702.6 475.1 L1391.0 475.4 L1391.0 476.5 L1702.6 476.8 L1391.0 477.1 L1391.0 479.4 L1451.2 479.7 L1391.0 480.0 L1391.0 481.0 L1509.4 481.3 L1391.0 481.6 L1391.0 484.0 L1541.2 484.3 L1391.0 484.7 L1391.0 485.7 L1555.1 486.1 L1391.0 486.4 L1391.0 487.3 L1445.9 487.6 L1391.0 488.0 L1391.0 507.8 L1567.6 508.2 L1391.0 508.5 L1391.0 536.5 L1453.8 536.9 L1391.0 537.2 L1391.0 541.6 L1449.8 541.9 L1391.0 542.2 L1391.0 545.5 L1404.9 545.9 L1391.0 546.2 L1391.0 552.2 L1702.6 552.5 L1391.0 552.8 L1391.0 560.4 L1445.2 560.7 L1391.0 561.0 L1391.0 565.4 L1565.0 565.7 L1391.0 566.1 L1391.0 573.3 L1411.5 573.7 L1391.0 574.0 L1391.0 578.6 L1405.5 579.0 L1391.0 579.3 L1391.0 597.2 L1432.6 597.5 L1391.0 597.8 L1391.0 600.5 L1476.3 600.8 L1391.0 601.1 L1391.0 608.4 L1420.1 608.7 L1391.0 609.1 L1391.0 611.5 L1418.7 611.8 L1391.0 612.1 M1391.0 628.8 L1411.5 629.1 L1391.0 629.4 L1391.0 631.4 L1419.4 631.8 L1391.0 632.1 L1391.0 633.8 L1702.6 634.1 L1391.0 634.5 L1391.0 635.4 L1702.6 635.7 L1391.0 636.1 L1391.0 639.4 L1508.1 639.7 L1391.0 640.0 L1391.0 642.7 L1435.3 643.0 L1391.0 643.3 L1391.0 644.7 L1431.3 645.0 L1391.0 645.3 L1391.0 646.3 L1702.6 646.6 L1391.0 646.9 L1391.0 665.2 L1431.3 665.5 L1391.0 665.8 L1391.0 666.5 L1702.6 666.8 L1391.0 667.2 L1391.0 668.5 L1702.6 668.8 L1391.0 669.2 L1391.0 674.4 L1405.5 674.8 L1391.0 675.1 L1391.0 678.4 L1502.8 678.7 L1391.0 679.1 L1391.0 681.7 L1498.8 682.1 L1391.0 682.4 L1391.0 682.4 L1476.3 682.7 L1391.0 683.0 L1391.0 687.0 L1394.9 687.3 L1391.0 687.7 L1391.0 688.3 L1702.6 688.7 L1391.0 689.0 L1391.0 691.0 L1436.6 691.3 L1391.0 691.6 L1391.0 694.3 L1400.9 694.6 L1391.0 695.0 L1391.0 697.3 L1425.4 697.7 L1391.0 698.0 L1391.0 700.9 L1392.9 701.2 L1391.0 701.6 L1391.0 705.5 L1442.6 705.9 L1391.0 706.2 L1391.0 707.5 L1441.2 707.9 L1391.0 708.2 L1391.0 713.5 L1397.6 713.8 L1391.0 714.1 L1391.0 716.8 L1396.9 717.1 L1391.0 717.5 L1391.0 730.7 L1702.6 731.0 L1391.0 731.4 L1391.0 732.7 L1423.4 733.0 L1391.0 733.3 L1391.0 735.3 L1411.5 735.7 L1391.0 736.0 L1391.0 749.9 L1702.6 750.2 L1391.0 750.5 L1391.0 761.1 L1406.8 761.5 L1391.0 761.8 L1391.0 765.1 L1443.9 765.4 L1391.0 765.8 L1391.0 769.1 L1702.6 769.4 L1391.0 769.7 L1391.0 771.1 L1595.4 771.4 L1391.0 771.7 L1391.0 774.4 L1486.9 774.7 L1391.0 775.0 L1391.0 777.0 L1432.6 777.3 L1391.0 777.7 L1391.0 779.0 L1420.7 779.3 L1391.0 779.7 M1391.0 779.5 L1404.9 779.9 L1391.0 780.2 L1391.0 781.5 L1436.6 781.8 L1391.0 782.2 L1391.0 785.5 L1592.8 785.8 L1391.0 786.1 L1391.0 788.8 L1606.7 789.1 L1391.0 789.4 L1391.0 792.1 L1418.7 792.4 L1391.0 792.8 L1391.0 796.7 L1430.7 797.1 L1391.0 797.4 L1391.0 798.7 L1421.4 799.0 L1391.0 799.4 L1391.0 800.7 L1441.9 801.0 L1391.0 801.4 L1391.0 805.7 L1702.6 806.1 L1391.0 806.4 L1391.0 809.3 L1485.6 809.6 L1391.0 810.0 L1391.0 811.9 L1440.6 812.3 L1391.0 812.6 L1391.0 813.9 L1570.3 814.3 L1391.0 814.6 L1391.0 815.3 L1702.6 815.6 L1391.0 815.9 L1391.0 817.9 L1412.8 818.2 L1391.0 818.6 L1391.0 820.5 L1401.5 820.9 L1391.0 821.2 L1391.0 826.5 L1493.5 826.8 L1391.0 827.2 L1391.0 830.9 L1418.7 831.2 L1391.0 831.5 L1391.0 833.5 L1411.5 833.8 L1391.0 834.2 L1391.0 837.5 L1487.6 837.8 L1391.0 838.1 L1391.0 842.8 L1411.5 843.1 L1391.0 843.4 L1391.0 845.4 L1402.2 845.8 L1391.0 846.1 L1391.0 848.1 L1420.7 848.4 L1391.0 848.7 L1391.0 852.3 L1510.1 852.6 L1391.0 853.0 L1391.0 853.6 L1702.6 854.0 L1391.0 854.3 L1391.0 874.5 L1458.5 874.9 L1391.0 875.2 L1391.0 882.8 L1392.3 883.1 L1391.0 883.4 M1391.0 890.4 L1406.8 891.0 L1395.6 893.7 L1408.2 894.3 L1403.5 896.3 L1443.2 899.6 L1543.8 900.3 L1702.6 900.3 L1545.8 901.6 L1561.0 903.2 L1702.6 903.6 L1592.8 905.6 L1494.8 905.6 L1476.3 907.6 L1434.6 910.2 L1492.2 911.3 L1451.2 912.9 L1424.7 918.8 M1410.8 920.7 L1535.9 921.3 L1702.6 923.3 L1391.0 924.0 L1441.2 927.3 L1391.0 928.6 L1460.4 931.6 L1702.6 934.6 L1561.0 936.5 L1426.0 937.9 L1437.9 941.2 L1702.6 943.2 L1391.0 943.8 L1702.6 947.8 L1391.0 948.5 L1702.6 949.8 L1391.0 951.1 L1702.6 951.8 L1391.0 952.8 L1391.0 959.7 L1394.3 960.0 L1391.0 960.5 M1391.0 974.9 L1437.9 978.9 L1453.8 981.5 L1464.4 984.8 L1461.8 987.5 L1467.1 992.1 L1472.3 996.8 L1481.6 1003.4 L1488.2 1011.3 L1493.5 1015.3 L1494.8 1025.9 L1495.5 1039.1 L1494.2 1044.4 L1496.2 1055.0 L1498.8 1066.9 L1497.5 1078.8 L1493.5 1088.1 L1485.6 1094.7 L1479.0 1100.0 M1496.6 1080.0 L1495.4 1086.0 L1490.6 1092.0 L1481.0 1099.2 L1469.0 1105.8 L1457.0 1112.4 L1439.0 1119.6 L1421.0 1125.6 L1409.0 1129.8 L1400.0 1136.4" fill="none" stroke="#00ff00" stroke-width="1.74" stroke-linejoin="round" stroke-linecap="butt"/>
<path d="M1479.0 339.6 L1488.2 340.2 L1481.6 342.2 L1488.2 344.8 L1482.9 346.2 L1473.7 350.8 L1488.2 351.5 L1480.3 354.1 L1477.6 356.8 L1488.2 358.1 L1468.4 361.4 L1488.2 362.7 L1455.1 366.7 L1488.2 366.0 L1437.9 368.7 L1460.4 370.0 L1428.7 371.3 L1415.4 376.0 M1391.0 395.1 L1392.9 399.1 L1395.6 403.1 L1406.2 409.7 L1394.3 407.1 L1400.9 419.0 L1392.9 425.6 L1408.8 429.6 L1396.9 434.8 M1394.3 792.4 L1391.6 794.4 L1391.6 803.7 L1393.6 815.6 L1392.3 823.5 L1393.6 830.1 L1391.6 834.1 M1702.6 990.1 L1546.5 994.8 L1554.4 998.7 L1538.5 1002.7 L1542.5 1006.7 L1530.6 1010.0 L1529.3 1017.9 L1533.2 1024.6 L1527.9 1043.1 L1529.9 1052.3 L1529.3 1065.6 L1524.0 1074.8 L1510.7 1086.8 L1497.5 1093.4 L1480.3 1100.0 M1519.4 1080.0 L1509.8 1088.4 L1497.8 1094.4 L1469.0 1104.0 L1445.0 1110.0 L1421.0 1119.6 L1412.6 1125.6 L1404.8 1136.4" fill="none" stroke="#008000" stroke-width="1.74" stroke-linejoin="round" stroke-linecap="butt"/>
</g>
<rect x="1390.5" y="123.5" width="230.00" height="1075.00" fill="none" stroke="#000" stroke-width="1.11"/>
<line x1="1390" y1="1198.5" x2="1390" y2="1204.0" stroke="#000" stroke-width="2.08"/>
<line x1="1390" y1="123.5" x2="1390" y2="117.1" stroke="#000" stroke-width="2.08"/>
<line x1="1467" y1="1198.5" x2="1467" y2="1204.0" stroke="#000" stroke-width="2.08"/>
<line x1="1467" y1="123.5" x2="1467" y2="117.1" stroke="#000" stroke-width="2.08"/>
<line x1="1543" y1="1198.5" x2="1543" y2="1204.0" stroke="#000" stroke-width="2.08"/>
<line x1="1543" y1="123.5" x2="1543" y2="117.1" stroke="#000" stroke-width="2.08"/>
<line x1="1620" y1="1198.5" x2="1620" y2="1204.0" stroke="#000" stroke-width="2.08"/>
<line x1="1620" y1="123.5" x2="1620" y2="117.1" stroke="#000" stroke-width="2.08"/>
<line x1="1390.5" y1="1199" x2="1384.0" y2="1199" stroke="#000" stroke-width="2.08"/>
<line x1="1620.5" y1="1199" x2="1625.9" y2="1199" stroke="#000" stroke-width="2.08"/>
<line x1="1390.5" y1="1045" x2="1384.0" y2="1045" stroke="#000" stroke-width="2.08"/>
<line x1="1620.5" y1="1045" x2="1625.9" y2="1045" stroke="#000" stroke-width="2.08"/>
<line x1="1390.5" y1="891" x2="1384.0" y2="891" stroke="#000" stroke-width="2.08"/>
<line x1="1620.5" y1="891" x2="1625.9" y2="891" stroke="#000" stroke-width="2.08"/>
<line x1="1390.5" y1="738" x2="1384.0" y2="738" stroke="#000" stroke-width="2.08"/>
<line x1="1620.5" y1="738" x2="1625.9" y2="738" stroke="#000" stroke-width="2.08"/>
<line x1="1390.5" y1="584" x2="1384.0" y2="584" stroke="#000" stroke-width="2.08"/>
<line x1="1620.5" y1="584" x2="1625.9" y2="584" stroke="#000" stroke-width="2.08"/>
<line x1="1390.5" y1="431" x2="1384.0" y2="431" stroke="#000" stroke-width="2.08"/>
<line x1="1620.5" y1="431" x2="1625.9" y2="431" stroke="#000" stroke-width="2.08"/>
<line x1="1390.5" y1="277" x2="1384.0" y2="277" stroke="#000" stroke-width="2.08"/>
<line x1="1620.5" y1="277" x2="1625.9" y2="277" stroke="#000" stroke-width="2.08"/>
<line x1="1390.5" y1="124" x2="1384.0" y2="124" stroke="#000" stroke-width="2.08"/>
<line x1="1620.5" y1="124" x2="1625.9" y2="124" stroke="#000" stroke-width="2.08"/>
<text x="1377.56" y="1220.00" font-family="Liberation Serif" font-size="17.83" textLength="25.88" lengthAdjust="spacingAndGlyphs">0.0</text>
<text x="1454.50" y="1220.00" font-family="Liberation Serif" font-size="17.83" textLength="25.69" lengthAdjust="spacingAndGlyphs">0.2</text>
<text x="1530.77" y="1220.00" font-family="Liberation Serif" font-size="17.83" textLength="25.67" lengthAdjust="spacingAndGlyphs">0.4</text>
<text x="1607.54" y="1220.00" font-family="Liberation Serif" font-size="17.83" textLength="25.76" lengthAdjust="spacingAndGlyphs">0.6</text>
<text x="1369.85" y="1204.90" font-family="Liberation Serif" font-size="17.83" textLength="9.91" lengthAdjust="spacingAndGlyphs">0</text>
<text x="1370.30" y="1051.33" font-family="Liberation Serif" font-size="17.83" textLength="9.77" lengthAdjust="spacingAndGlyphs">2</text>
<text x="1369.36" y="897.76" font-family="Liberation Serif" font-size="17.83" textLength="9.95" lengthAdjust="spacingAndGlyphs">4</text>
<text x="1369.71" y="744.19" font-family="Liberation Serif" font-size="17.83" textLength="9.88" lengthAdjust="spacingAndGlyphs">6</text>
<text x="1369.88" y="590.61" font-family="Liberation Serif" font-size="17.83" textLength="9.87" lengthAdjust="spacingAndGlyphs">8</text>
<text x="1359.12" y="437.04" font-family="Liberation Serif" font-size="17.83" textLength="20.67" lengthAdjust="spacingAndGlyphs">10</text>
<text x="1359.66" y="283.47" font-family="Liberation Serif" font-size="17.83" textLength="20.47" lengthAdjust="spacingAndGlyphs">12</text>
<text x="1358.87" y="129.90" font-family="Liberation Serif" font-size="17.83" textLength="20.45" lengthAdjust="spacingAndGlyphs">14</text>
<line x1="1702.50" y1="123.5" x2="1702.50" y2="1198.5" stroke="#b0b0b0" stroke-width="1.11"/>
<line x1="1794.50" y1="123.5" x2="1794.50" y2="1198.5" stroke="#b0b0b0" stroke-width="1.11"/>
<line x1="1886.50" y1="123.5" x2="1886.50" y2="1198.5" stroke="#b0b0b0" stroke-width="1.11"/>
<line x1="1702.5" y1="1198.50" x2="1932.5" y2="1198.50" stroke="#b0b0b0" stroke-width="1.11"/>
<line x1="1702.5" y1="1044.50" x2="1932.5" y2="1044.50" stroke="#b0b0b0" stroke-width="1.11"/>
<line x1="1702.5" y1="891.50" x2="1932.5" y2="891.50" stroke="#b0b0b0" stroke-width="1.11"/>
<line x1="1702.5" y1="737.50" x2="1932.5" y2="737.50" stroke="#b0b0b0" stroke-width="1.11"/>
<line x1="1702.5" y1="584.50" x2="1932.5" y2="584.50" stroke="#b0b0b0" stroke-width="1.11"/>
<line x1="1702.5" y1="430.50" x2="1932.5" y2="430.50" stroke="#b0b0b0" stroke-width="1.11"/>
<line x1="1702.5" y1="277.50" x2="1932.5" y2="277.50" stroke="#b0b0b0" stroke-width="1.11"/>
<line x1="1702.5" y1="123.50" x2="1932.5" y2="123.50" stroke="#b0b0b0" stroke-width="1.11"/>
<g clip-path="url(#c5)">
</g>
<rect x="1702.5" y="123.5" width="230.00" height="1075.00" fill="none" stroke="#000" stroke-width="1.11"/>
<line x1="1702" y1="1198.5" x2="1702" y2="1204.0" stroke="#000" stroke-width="2.08"/>
<line x1="1794" y1="1198.5" x2="1794" y2="1204.0" stroke="#000" stroke-width="2.08"/>
<line x1="1886" y1="1198.5" x2="1886" y2="1204.0" stroke="#000" stroke-width="2.08"/>
<line x1="1702.5" y1="1199" x2="1696.0" y2="1199" stroke="#000" stroke-width="2.08"/>
<line x1="1932.5" y1="1199" x2="1937.9" y2="1199" stroke="#000" stroke-width="2.08"/>
<line x1="1702.5" y1="1045" x2="1696.0" y2="1045" stroke="#000" stroke-width="2.08"/>
<line x1="1932.5" y1="1045" x2="1937.9" y2="1045" stroke="#000" stroke-width="2.08"/>
<line x1="1702.5" y1="891" x2="1696.0" y2="891" stroke="#000" stroke-width="2.08"/>
<line x1="1932.5" y1="891" x2="1937.9" y2="891" stroke="#000" stroke-width="2.08"/>
<line x1="1702.5" y1="738" x2="1696.0" y2="738" stroke="#000" stroke-width="2.08"/>
<line x1="1932.5" y1="738" x2="1937.9" y2="738" stroke="#000" stroke-width="2.08"/>
<line x1="1702.5" y1="584" x2="1696.0" y2="584" stroke="#000" stroke-width="2.08"/>
<line x1="1932.5" y1="584" x2="1937.9" y2="584" stroke="#000" stroke-width="2.08"/>
<line x1="1702.5" y1="431" x2="1696.0" y2="431" stroke="#000" stroke-width="2.08"/>
<line x1="1932.5" y1="431" x2="1937.9" y2="431" stroke="#000" stroke-width="2.08"/>
<line x1="1702.5" y1="277" x2="1696.0" y2="277" stroke="#000" stroke-width="2.08"/>
<line x1="1932.5" y1="277" x2="1937.9" y2="277" stroke="#000" stroke-width="2.08"/>
<line x1="1702.5" y1="124" x2="1696.0" y2="124" stroke="#000" stroke-width="2.08"/>
<line x1="1932.5" y1="124" x2="1937.9" y2="124" stroke="#000" stroke-width="2.08"/>
<text x="1697.55" y="1220.00" font-family="Liberation Serif" font-size="17.83" textLength="9.91" lengthAdjust="spacingAndGlyphs">0</text>
<text x="1784.11" y="1220.00" font-family="Liberation Serif" font-size="17.83" textLength="20.66" lengthAdjust="spacingAndGlyphs">20</text>
<text x="1876.30" y="1220.00" font-family="Liberation Serif" font-size="17.83" textLength="20.79" lengthAdjust="spacingAndGlyphs">40</text>
<text x="1681.85" y="1204.90" font-family="Liberation Serif" font-size="17.83" textLength="9.91" lengthAdjust="spacingAndGlyphs">0</text>
<text x="1682.30" y="1051.33" font-family="Liberation Serif" font-size="17.83" textLength="9.77" lengthAdjust="spacingAndGlyphs">2</text>
<text x="1681.36" y="897.76" font-family="Liberation Serif" font-size="17.83" textLength="9.95" lengthAdjust="spacingAndGlyphs">4</text>
<text x="1681.71" y="744.19" font-family="Liberation Serif" font-size="17.83" textLength="9.88" lengthAdjust="spacingAndGlyphs">6</text>
<text x="1681.88" y="590.61" font-family="Liberation Serif" font-size="17.83" textLength="9.87" lengthAdjust="spacingAndGlyphs">8</text>
<text x="1671.12" y="437.04" font-family="Liberation Serif" font-size="17.83" textLength="20.67" lengthAdjust="spacingAndGlyphs">10</text>
<text x="1671.66" y="283.47" font-family="Liberation Serif" font-size="17.83" textLength="20.47" lengthAdjust="spacingAndGlyphs">12</text>
<text x="1670.87" y="129.90" font-family="Liberation Serif" font-size="17.83" textLength="20.45" lengthAdjust="spacingAndGlyphs">14</text>
<text x="-61.37" y="0" font-family="Liberation Serif" font-size="23.93" textLength="123.88" lengthAdjust="spacingAndGlyphs" transform="translate(103.00 661.50) rotate(-90)">Height [km]</text>
<text x="123.28" y="1248.00" font-family="Liberation Serif" font-size="23.93" textLength="197.35" lengthAdjust="spacingAndGlyphs">Backsc. coeff. [Msr</text>
<text x="318.49" y="1241.00" font-family="Liberation Serif" font-size="16.75" textLength="19.41" lengthAdjust="spacingAndGlyphs">−1</text>
<text x="345.19" y="1248.00" font-family="Liberation Serif" font-size="23.93" textLength="18.83" lengthAdjust="spacingAndGlyphs">m</text>
<text x="364.39" y="1241.00" font-family="Liberation Serif" font-size="16.75" textLength="19.41" lengthAdjust="spacingAndGlyphs">−1</text>
<text x="385.65" y="1248.00" font-family="Liberation Serif" font-size="23.93" textLength="6.89" lengthAdjust="spacingAndGlyphs">]</text>
<text x="457.48" y="1248.00" font-family="Liberation Serif" font-size="23.93" textLength="197.13" lengthAdjust="spacingAndGlyphs">Extinct. coeff. [Mm</text>
<text x="653.39" y="1240.60" font-family="Liberation Serif" font-size="16.75" textLength="19.41" lengthAdjust="spacingAndGlyphs">−1</text>
<text x="674.45" y="1248.00" font-family="Liberation Serif" font-size="23.93" textLength="6.89" lengthAdjust="spacingAndGlyphs">]</text>
<text x="804.16" y="1244.10" font-family="Liberation Serif" font-size="23.93" textLength="155.42" lengthAdjust="spacingAndGlyphs">Lidar ratio [Sr]</text>
<text x="1120.74" y="1249.50" font-family="Liberation Serif" font-size="23.93" textLength="13.85" lengthAdjust="spacingAndGlyphs" font-style="italic">Å</text>
<text x="1132.91" y="1249.50" font-family="Liberation Serif" font-size="23.93" textLength="137.47" lengthAdjust="spacingAndGlyphs">ngström Exp.</text>
<text x="1445.27" y="1244.20" font-family="Liberation Serif" font-size="23.93" textLength="121.00" lengthAdjust="spacingAndGlyphs">Depol. ratio</text>
<text x="1733.18" y="1247.90" font-family="Liberation Serif" font-size="23.93" textLength="71.96" lengthAdjust="spacingAndGlyphs">WVMR</text>
<text x="1809.09" y="1247.90" font-family="Liberation Sans" font-size="20.28" textLength="5.87" lengthAdjust="spacingAndGlyphs">[</text>
<text x="1817.76" y="1247.90" font-family="Liberation Sans" font-size="21.29" textLength="11.66" lengthAdjust="spacingAndGlyphs" font-style="italic">g</text>
<text x="1834.00" y="1247.90" font-family="Liberation Sans" font-size="20.28" textLength="9.72" lengthAdjust="spacingAndGlyphs">*</text>
<text x="1848.43" y="1247.90" font-family="Liberation Sans" font-size="21.29" textLength="23.69" lengthAdjust="spacingAndGlyphs" font-style="italic">kg</text>
<text x="1873.14" y="1240.50" font-family="Liberation Sans" font-size="14.90" textLength="19.82" lengthAdjust="spacingAndGlyphs">−1</text>
<text x="1895.43" y="1247.90" font-family="Liberation Sans" font-size="20.28" textLength="5.87" lengthAdjust="spacingAndGlyphs">]</text>
<line x1="1702" y1="123.5" x2="1702" y2="117.1" stroke="#000" stroke-width="2.08"/>
<text x="1697.55" y="109.20" font-family="Liberation Serif" font-size="17.83" textLength="9.91" lengthAdjust="spacingAndGlyphs">0</text>
<line x1="1760" y1="123.5" x2="1760" y2="117.1" stroke="#000" stroke-width="2.08"/>
<text x="1749.70" y="109.20" font-family="Liberation Serif" font-size="17.83" textLength="20.49" lengthAdjust="spacingAndGlyphs">25</text>
<line x1="1818" y1="123.5" x2="1818" y2="117.1" stroke="#000" stroke-width="2.08"/>
<text x="1806.96" y="109.20" font-family="Liberation Serif" font-size="17.83" textLength="20.67" lengthAdjust="spacingAndGlyphs">50</text>
<line x1="1875" y1="123.5" x2="1875" y2="117.1" stroke="#000" stroke-width="2.08"/>
<text x="1864.37" y="109.20" font-family="Liberation Serif" font-size="17.83" textLength="20.69" lengthAdjust="spacingAndGlyphs">75</text>
<line x1="1932" y1="123.5" x2="1932" y2="117.1" stroke="#000" stroke-width="2.08"/>
<text x="1916.33" y="109.20" font-family="Liberation Serif" font-size="17.83" textLength="31.30" lengthAdjust="spacingAndGlyphs">100</text>
<text x="1728.99" y="93.00" font-family="Liberation Serif" font-size="23.93" textLength="176.93" lengthAdjust="spacingAndGlyphs">Rel.Humidity [%]</text>
<rect x="587.6" y="230.9" width="93.9" height="62.6" fill="#f1f2f6"/>
<text x="594.20" y="246.80" font-family="Liberation Serif" font-size="14.75" textLength="17.74" lengthAdjust="spacingAndGlyphs">LR</text>
<text x="611.03" y="248.40" font-family="Liberation Sans" font-size="9.19" textLength="16.04" lengthAdjust="spacingAndGlyphs">355</text>
<text x="627.86" y="246.80" font-family="Liberation Serif" font-size="14.75" textLength="43.68" lengthAdjust="spacingAndGlyphs">: 48.00</text>
<text x="594.20" y="264.40" font-family="Liberation Serif" font-size="14.75" textLength="17.74" lengthAdjust="spacingAndGlyphs">LR</text>
<text x="611.02" y="266.00" font-family="Liberation Sans" font-size="9.19" textLength="16.02" lengthAdjust="spacingAndGlyphs">532</text>
<text x="627.86" y="264.40" font-family="Liberation Serif" font-size="14.75" textLength="43.68" lengthAdjust="spacingAndGlyphs">: 39.00</text>
<text x="594.20" y="283.40" font-family="Liberation Serif" font-size="14.75" textLength="17.74" lengthAdjust="spacingAndGlyphs">LR</text>
<text x="611.45" y="285.00" font-family="Liberation Sans" font-size="9.19" textLength="21.85" lengthAdjust="spacingAndGlyphs">1064</text>
<text x="633.06" y="283.40" font-family="Liberation Serif" font-size="14.75" textLength="43.68" lengthAdjust="spacingAndGlyphs">: 30.00</text>
<rect x="150.50" y="131.50" width="215.00" height="228.00" rx="3" ry="3" fill="#fff" fill-opacity="0.8" stroke="#cccccc" stroke-opacity="0.8" stroke-width="1.0"/>
<line x1="156.10" y1="144.80" x2="188.80" y2="144.80" stroke="#0000ff" stroke-width="1.74"/>
<text x="200.83" y="151.20" font-family="Liberation Serif" font-size="18.03" textLength="146.83" lengthAdjust="spacingAndGlyphs">aerBsc_raman_355</text>
<line x1="156.10" y1="169.55" x2="188.80" y2="169.55" stroke="#008000" stroke-width="1.74"/>
<text x="200.83" y="175.95" font-family="Liberation Serif" font-size="18.03" textLength="146.82" lengthAdjust="spacingAndGlyphs">aerBsc_raman_532</text>
<line x1="156.10" y1="194.30" x2="188.80" y2="194.30" stroke="#ff0000" stroke-width="1.74"/>
<text x="200.83" y="200.70" font-family="Liberation Serif" font-size="18.03" textLength="156.52" lengthAdjust="spacingAndGlyphs">aerBsc_raman_1064</text>
<line x1="157.00" y1="219.05" x2="187.90" y2="219.05" stroke="#800080" stroke-width="1.74" stroke-dasharray="6 2.8"/>
<text x="200.86" y="225.45" font-family="Liberation Serif" font-size="18.03" textLength="119.94" lengthAdjust="spacingAndGlyphs">aerBsc_RR_355</text>
<line x1="157.00" y1="243.80" x2="187.90" y2="243.80" stroke="#808000" stroke-width="1.74" stroke-dasharray="6 2.8"/>
<text x="200.86" y="250.20" font-family="Liberation Serif" font-size="18.03" textLength="119.91" lengthAdjust="spacingAndGlyphs">aerBsc_RR_532</text>
<line x1="157.00" y1="268.55" x2="187.90" y2="268.55" stroke="#ffa07a" stroke-width="1.74" stroke-dasharray="6 2.8"/>
<text x="200.85" y="274.95" font-family="Liberation Serif" font-size="18.03" textLength="129.65" lengthAdjust="spacingAndGlyphs">aerBsc_RR_1064</text>
<line x1="156.10" y1="293.30" x2="188.80" y2="293.30" stroke="#00ffff" stroke-width="1.74"/>
<text x="200.83" y="299.70" font-family="Liberation Serif" font-size="18.03" textLength="132.44" lengthAdjust="spacingAndGlyphs">aerBsc_klett_355</text>
<line x1="156.10" y1="318.05" x2="188.80" y2="318.05" stroke="#00ff00" stroke-width="1.74"/>
<text x="200.83" y="324.45" font-family="Liberation Serif" font-size="18.03" textLength="132.43" lengthAdjust="spacingAndGlyphs">aerBsc_klett_532</text>
<line x1="156.10" y1="342.80" x2="188.80" y2="342.80" stroke="#fa8072" stroke-width="1.74"/>
<text x="200.83" y="349.20" font-family="Liberation Serif" font-size="18.03" textLength="142.13" lengthAdjust="spacingAndGlyphs">aerBsc_klett_1064</text>
<rect x="436.50" y="131.50" width="241.00" height="228.00" rx="3" ry="3" fill="#fff" fill-opacity="0.8" stroke="#cccccc" stroke-opacity="0.8" stroke-width="1.0"/>
<line x1="442.00" y1="144.80" x2="474.70" y2="144.80" stroke="#0000ff" stroke-width="1.74"/>
<text x="486.73" y="151.20" font-family="Liberation Serif" font-size="18.03" textLength="145.12" lengthAdjust="spacingAndGlyphs">aerExt_raman_355</text>
<line x1="442.00" y1="169.55" x2="474.70" y2="169.55" stroke="#008000" stroke-width="1.74"/>
<text x="486.73" y="175.95" font-family="Liberation Serif" font-size="18.03" textLength="145.11" lengthAdjust="spacingAndGlyphs">aerExt_raman_532</text>
<line x1="442.00" y1="194.30" x2="474.70" y2="194.30" stroke="#ff0000" stroke-width="1.74"/>
<text x="486.73" y="200.70" font-family="Liberation Serif" font-size="18.03" textLength="154.81" lengthAdjust="spacingAndGlyphs">aerExt_raman_1064</text>
<line x1="442.90" y1="219.05" x2="473.80" y2="219.05" stroke="#800080" stroke-width="1.74" stroke-dasharray="6 2.8"/>
<text x="486.75" y="225.45" font-family="Liberation Serif" font-size="18.03" textLength="118.23" lengthAdjust="spacingAndGlyphs">aerExt_RR_355</text>
<line x1="442.90" y1="243.80" x2="473.80" y2="243.80" stroke="#808000" stroke-width="1.74" stroke-dasharray="6 2.8"/>
<text x="486.76" y="250.20" font-family="Liberation Serif" font-size="18.03" textLength="118.20" lengthAdjust="spacingAndGlyphs">aerExt_RR_532</text>
<line x1="442.90" y1="268.55" x2="473.80" y2="268.55" stroke="#ffa07a" stroke-width="1.74" stroke-dasharray="6 2.8"/>
<text x="486.75" y="274.95" font-family="Liberation Serif" font-size="18.03" textLength="127.93" lengthAdjust="spacingAndGlyphs">aerExt_RR_1064</text>
<line x1="442.00" y1="293.30" x2="474.70" y2="293.30" stroke="#00ffff" stroke-width="1.74"/>
<text x="486.74" y="299.70" font-family="Liberation Serif" font-size="18.03" textLength="173.25" lengthAdjust="spacingAndGlyphs">aerBsc_klett_355 x LR</text>
<line x1="442.00" y1="318.05" x2="474.70" y2="318.05" stroke="#00ff00" stroke-width="1.74"/>
<text x="486.74" y="324.45" font-family="Liberation Serif" font-size="18.03" textLength="173.25" lengthAdjust="spacingAndGlyphs">aerBsc_klett_532 x LR</text>
<line x1="442.00" y1="342.80" x2="474.70" y2="342.80" stroke="#fa8072" stroke-width="1.74"/>
<text x="486.74" y="349.20" font-family="Liberation Serif" font-size="18.03" textLength="182.97" lengthAdjust="spacingAndGlyphs">aerBsc_klett_1064 x LR</text>
<rect x="780.50" y="131.50" width="209.00" height="153.00" rx="3" ry="3" fill="#fff" fill-opacity="0.8" stroke="#cccccc" stroke-opacity="0.8" stroke-width="1.0"/>
<line x1="785.20" y1="144.80" x2="817.90" y2="144.80" stroke="#0000ff" stroke-width="1.74"/>
<text x="830.74" y="151.20" font-family="Liberation Serif" font-size="18.03" textLength="140.84" lengthAdjust="spacingAndGlyphs">aerLR_raman_355</text>
<line x1="785.20" y1="169.55" x2="817.90" y2="169.55" stroke="#008000" stroke-width="1.74"/>
<text x="830.74" y="175.95" font-family="Liberation Serif" font-size="18.03" textLength="140.82" lengthAdjust="spacingAndGlyphs">aerLR_raman_532</text>
<line x1="785.20" y1="194.30" x2="817.90" y2="194.30" stroke="#ff0000" stroke-width="1.74"/>
<text x="830.74" y="200.70" font-family="Liberation Serif" font-size="18.03" textLength="150.53" lengthAdjust="spacingAndGlyphs">aerLR_raman_1064</text>
<line x1="786.10" y1="219.05" x2="817.00" y2="219.05" stroke="#800080" stroke-width="1.74" stroke-dasharray="6 2.8"/>
<text x="830.77" y="225.45" font-family="Liberation Serif" font-size="18.03" textLength="113.94" lengthAdjust="spacingAndGlyphs">aerLR_RR_355</text>
<line x1="786.10" y1="243.80" x2="817.00" y2="243.80" stroke="#808000" stroke-width="1.74" stroke-dasharray="6 2.8"/>
<text x="830.77" y="250.20" font-family="Liberation Serif" font-size="18.03" textLength="113.91" lengthAdjust="spacingAndGlyphs">aerLR_RR_532</text>
<line x1="786.10" y1="268.55" x2="817.00" y2="268.55" stroke="#ffa07a" stroke-width="1.74" stroke-dasharray="6 2.8"/>
<text x="830.76" y="274.95" font-family="Liberation Serif" font-size="18.03" textLength="123.66" lengthAdjust="spacingAndGlyphs">aerLR_RR_1064</text>
<rect x="1024.50" y="131.50" width="276.00" height="79.00" rx="3" ry="3" fill="#fff" fill-opacity="0.8" stroke="#cccccc" stroke-opacity="0.8" stroke-width="1.0"/>
<line x1="1030.20" y1="144.40" x2="1062.90" y2="144.40" stroke="#ffa500" stroke-width="1.74"/>
<text x="1074.92" y="150.80" font-family="Liberation Serif" font-size="18.03" textLength="199.30" lengthAdjust="spacingAndGlyphs">AE_beta_355_532_Raman</text>
<line x1="1030.20" y1="169.15" x2="1062.90" y2="169.15" stroke="#ff00ff" stroke-width="1.74"/>
<text x="1074.92" y="175.55" font-family="Liberation Serif" font-size="18.03" textLength="209.02" lengthAdjust="spacingAndGlyphs">AE_beta_532_1064_Raman</text>
<line x1="1030.20" y1="193.90" x2="1062.90" y2="193.90" stroke="#000000" stroke-width="1.74"/>
<text x="1074.92" y="200.30" font-family="Liberation Serif" font-size="18.03" textLength="217.33" lengthAdjust="spacingAndGlyphs">AE_parExt_355_532_Raman</text>
<rect x="1380.50" y="131.50" width="232.00" height="153.00" rx="3" ry="3" fill="#fff" fill-opacity="0.8" stroke="#cccccc" stroke-opacity="0.8" stroke-width="1.0"/>
<line x1="1385.20" y1="144.80" x2="1417.90" y2="144.80" stroke="#0000ff" stroke-width="1.74"/>
<text x="1430.39" y="151.20" font-family="Liberation Serif" font-size="18.03" textLength="165.06" lengthAdjust="spacingAndGlyphs">parDepol_raman_355</text>
<line x1="1385.20" y1="169.55" x2="1417.90" y2="169.55" stroke="#008000" stroke-width="1.74"/>
<text x="1430.40" y="175.95" font-family="Liberation Serif" font-size="18.03" textLength="165.04" lengthAdjust="spacingAndGlyphs">parDepol_raman_532</text>
<line x1="1385.20" y1="194.30" x2="1417.90" y2="194.30" stroke="#ff0000" stroke-width="1.74"/>
<text x="1430.39" y="200.70" font-family="Liberation Serif" font-size="18.03" textLength="174.74" lengthAdjust="spacingAndGlyphs">parDepol_raman_1064</text>
<line x1="1385.20" y1="219.05" x2="1417.90" y2="219.05" stroke="#00ffff" stroke-width="1.74"/>
<text x="1430.40" y="225.45" font-family="Liberation Serif" font-size="18.03" textLength="150.67" lengthAdjust="spacingAndGlyphs">parDepol_klett_355</text>
<line x1="1385.20" y1="243.80" x2="1417.90" y2="243.80" stroke="#00ff00" stroke-width="1.74"/>
<text x="1430.40" y="250.20" font-family="Liberation Serif" font-size="18.03" textLength="150.65" lengthAdjust="spacingAndGlyphs">parDepol_klett_532</text>
<line x1="1385.20" y1="268.55" x2="1417.90" y2="268.55" stroke="#fa8072" stroke-width="1.74"/>
<text x="1430.40" y="274.95" font-family="Liberation Serif" font-size="18.03" textLength="160.36" lengthAdjust="spacingAndGlyphs">parDepol_klett_1064</text>
<rect x="1814.50" y="131.50" width="110.00" height="30.00" rx="3" ry="3" fill="#fff" fill-opacity="0.8" stroke="#cccccc" stroke-opacity="0.8" stroke-width="1.0"/>
<line x1="1819.00" y1="145.00" x2="1851.70" y2="145.00" stroke="#0000ff" stroke-width="1.74"/>
<text x="1864.58" y="151.40" font-family="Liberation Serif" font-size="18.03" textLength="54.21" lengthAdjust="spacingAndGlyphs">WVMR</text>
<rect x="1820.50" y="185.50" width="81.00" height="30.00" rx="3" ry="3" fill="#fff" fill-opacity="0.8" stroke="#cccccc" stroke-opacity="0.8" stroke-width="1.0"/>
<line x1="1825.00" y1="199.00" x2="1857.70" y2="199.00" stroke="#008000" stroke-width="1.74"/>
<text x="1870.90" y="205.40" font-family="Liberation Serif" font-size="18.03" textLength="24.15" lengthAdjust="spacingAndGlyphs">RH</text>
<rect x="1489.2" y="327.1" width="96.8" height="74.8" fill="#f1f2f6" fill-opacity="0.8"/>
<text x="1495.17" y="346.00" font-family="Liberation Serif" font-size="18.03" textLength="8.80" lengthAdjust="spacingAndGlyphs" font-style="italic">η</text>
<text x="1504.45" y="347.40" font-family="Liberation Sans" font-size="11.23" textLength="19.60" lengthAdjust="spacingAndGlyphs">355</text>
<text x="1524.49" y="346.00" font-family="Liberation Serif" font-size="18.03" textLength="53.11" lengthAdjust="spacingAndGlyphs">: 21.47</text>
<text x="1495.17" y="368.40" font-family="Liberation Serif" font-size="18.03" textLength="8.80" lengthAdjust="spacingAndGlyphs" font-style="italic">η</text>
<text x="1504.43" y="369.80" font-family="Liberation Sans" font-size="11.23" textLength="19.58" lengthAdjust="spacingAndGlyphs">532</text>
<text x="1524.48" y="368.40" font-family="Liberation Serif" font-size="18.03" textLength="53.43" lengthAdjust="spacingAndGlyphs">: 18.29</text>
<text x="1495.17" y="391.40" font-family="Liberation Serif" font-size="18.03" textLength="8.80" lengthAdjust="spacingAndGlyphs" font-style="italic">η</text>
<text x="1503.99" y="392.80" font-family="Liberation Sans" font-size="11.23" textLength="26.71" lengthAdjust="spacingAndGlyphs">1064</text>
<text x="1531.59" y="391.40" font-family="Liberation Serif" font-size="18.03" textLength="43.38" lengthAdjust="spacingAndGlyphs">: 0.17</text>
<rect x="195.0" y="1276.0" width="201.0" height="66.0" fill="#f1f2f6"/>
<text x="200.02" y="1294.80" font-family="Liberation Serif" font-size="18.03" textLength="178.03" lengthAdjust="spacingAndGlyphs">ref.H_355: nan-nan km</text>
<text x="200.02" y="1313.90" font-family="Liberation Serif" font-size="18.03" textLength="188.48" lengthAdjust="spacingAndGlyphs">ref.H_532: 3.79-6.78 km</text>
<text x="200.02" y="1333.30" font-family="Liberation Serif" font-size="18.03" textLength="187.75" lengthAdjust="spacingAndGlyphs">ref.H_1064: nan-nan km</text>
<rect x="1695.2" y="1274.0" width="174.7" height="27.7" fill="#f1f2f6"/>
<text x="1700.48" y="1291.80" font-family="Liberation Serif" font-size="18.03" textLength="163.80" lengthAdjust="spacingAndGlyphs">WV-calib.const.: 32.7</text>
<text x="1001.11" y="1327.80" font-family="Liberation Serif" font-size="15.57" textLength="87.18" lengthAdjust="spacingAndGlyphs" font-weight="bold" fill="#ff2222">Preliminary</text>
<text x="1001.10" y="1342.80" font-family="Liberation Serif" font-size="15.57" textLength="58.89" lengthAdjust="spacingAndGlyphs" font-weight="bold" fill="#ff2222">Results.</text>
<text x="1500.32" y="1331.90" font-family="Liberation Serif" font-size="13.11" textLength="162.24" lengthAdjust="spacingAndGlyphs" font-weight="bold">© TROPOS &amp; OSCM 2026.</text>
<text x="1499.82" y="1343.50" font-family="Liberation Serif" font-size="13.11" textLength="137.53" lengthAdjust="spacingAndGlyphs" font-weight="bold">CC BY SA 4.0 License.</text>
<g>
<rect x="662.5" y="1297.2" width="155.2" height="54.4" rx="2.5" fill="#333"/>
<path d="M664.5 1299.2 H815.7 V1335.9 H664.5 Z" fill="#abb1aa"/>
<clipPath id="ccc"><rect x="664.5" y="1299.2" width="151.2" height="50.4"/></clipPath><circle cx="689.2" cy="1322.4" r="24.6" fill="#abb1aa" clip-path="url(#ccc)"/>
<circle cx="689.2" cy="1322.4" r="20.4" fill="#333"/>
<circle cx="689.2" cy="1322.4" r="17.1" fill="#fff"/>
<text x="689.6" y="1329.2" font-family="Liberation Sans" font-weight="bold" font-size="24" text-anchor="middle" fill="#333" textLength="23" lengthAdjust="spacingAndGlyphs">cc</text>
<circle cx="744.2" cy="1316.6" r="14.6" fill="#333"/>
<circle cx="744.2" cy="1316.6" r="12.0" fill="#fff"/>
<circle cx="744.2" cy="1308.8" r="1.9" fill="#333"/>
<path d="M740.4 1311.4 H748.0 V1318.4 H746.4 V1326.2 H742.0 V1318.4 H740.4 Z" fill="#333"/>
<circle cx="781.1" cy="1316.6" r="14.6" fill="#333"/>
<circle cx="781.1" cy="1316.6" r="12.0" fill="#fff"/>
<path d="M775.6 1313.6 A6.3 6.3 0 1 1 775.9 1320.0" fill="none" stroke="#333" stroke-width="3.2"/>
<path d="M772.6 1312.2 L778.8 1312.2 L775.6 1316.8 Z" fill="#333"/>
<text x="744.2" y="1348.6" font-family="Liberation Sans" font-weight="bold" font-size="12" text-anchor="middle" fill="#fff" textLength="15.5" lengthAdjust="spacingAndGlyphs">BY</text>
<text x="781.1" y="1348.6" font-family="Liberation Sans" font-weight="bold" font-size="12" text-anchor="middle" fill="#fff" textLength="15.5" lengthAdjust="spacingAndGlyphs">SA</text>
</g>
</svg></div></body></html>
